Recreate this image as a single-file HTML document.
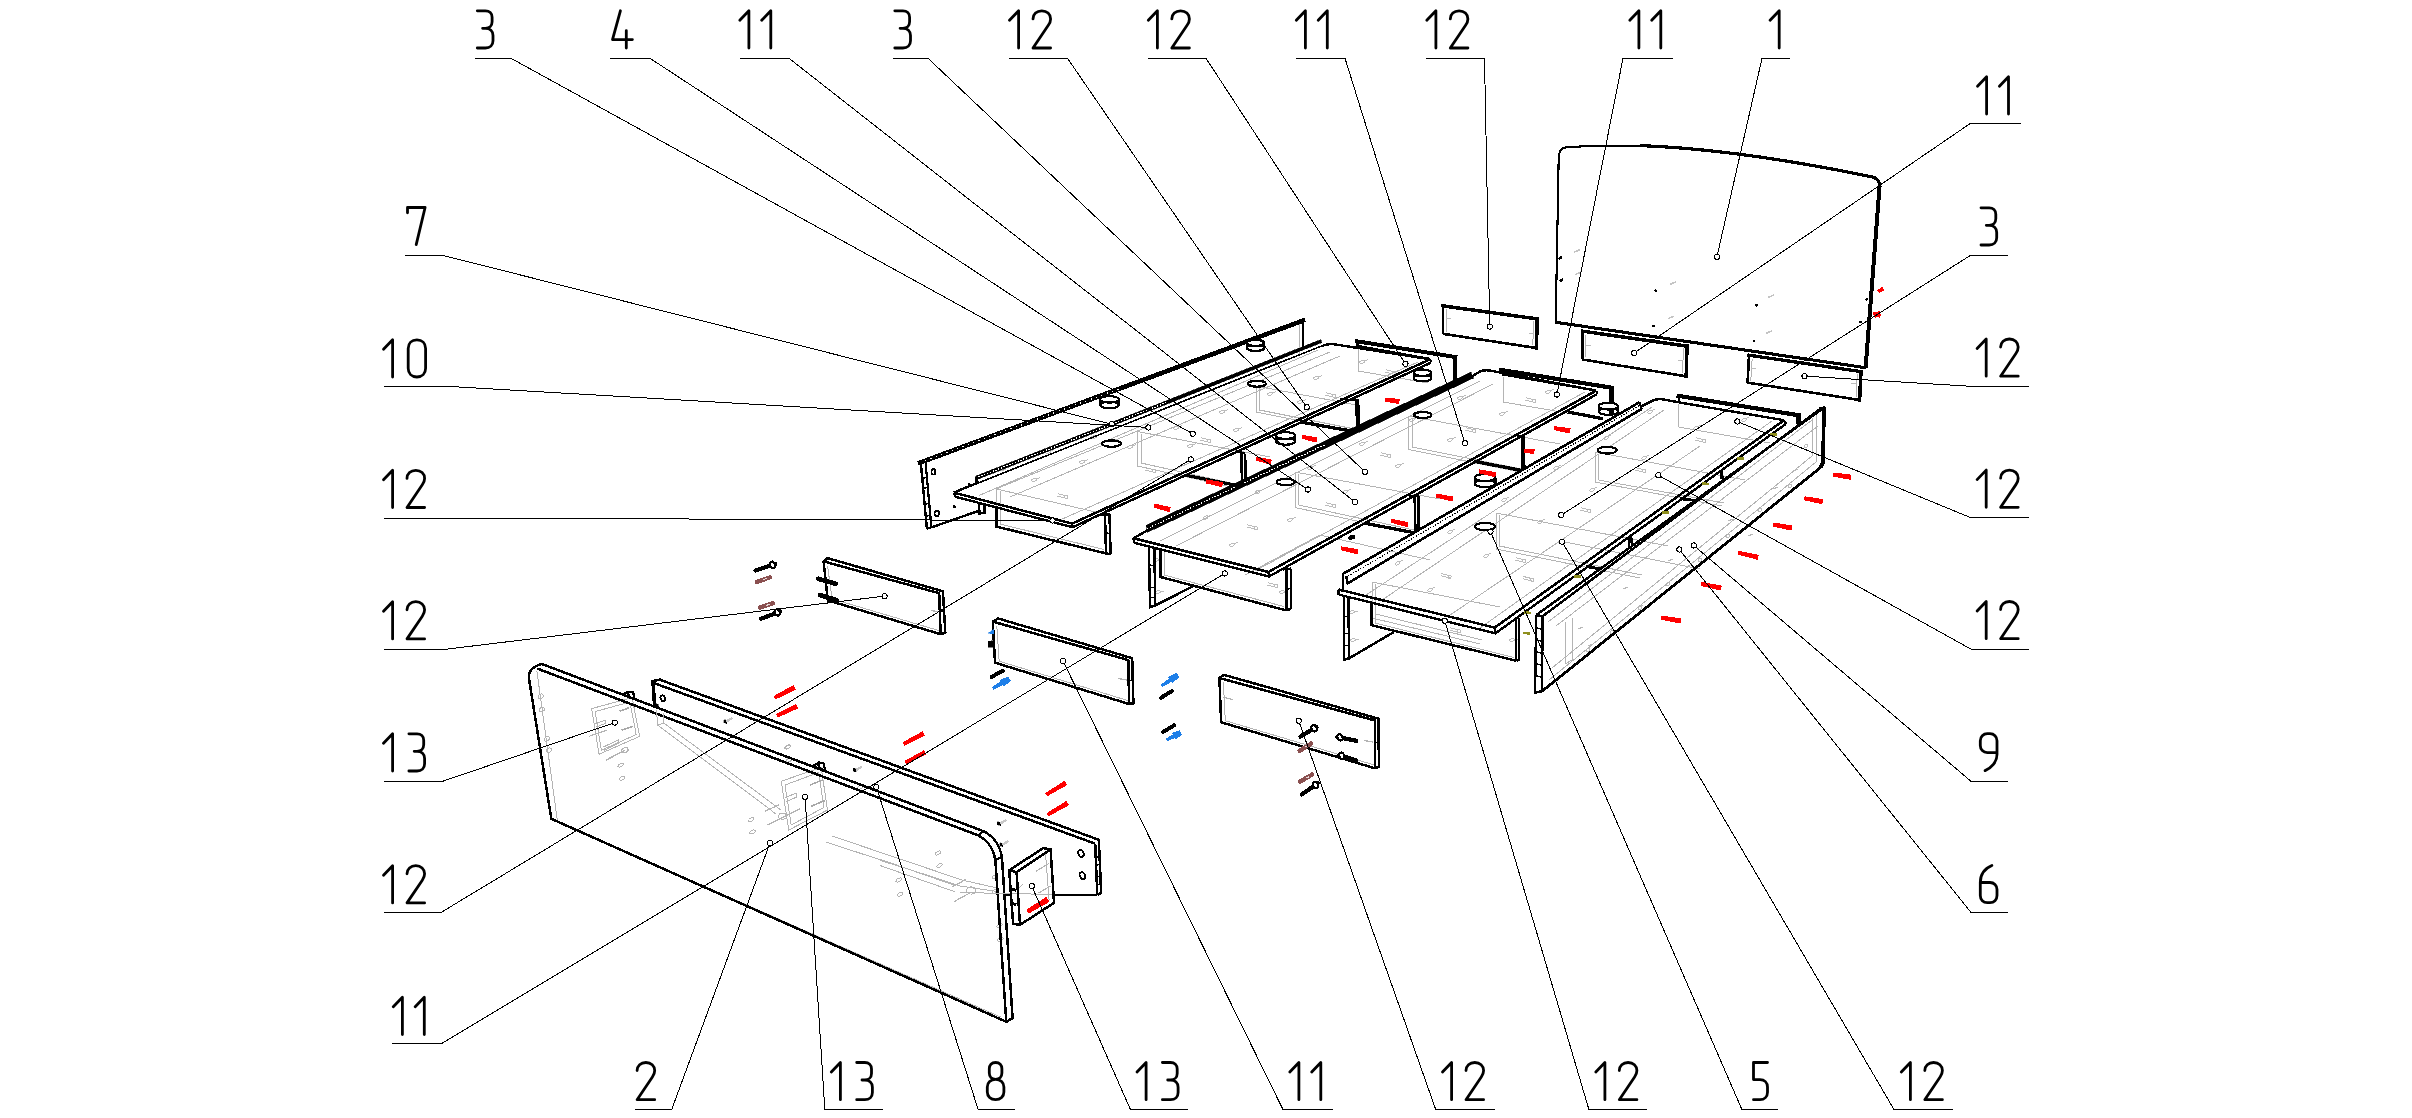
<!DOCTYPE html>
<html><head><meta charset="utf-8"><title>Assembly diagram</title>
<style>html,body{margin:0;padding:0;background:#fff;font-family:"Liberation Sans",sans-serif}svg{display:block}</style></head>
<body>
<svg width="2412" height="1118" viewBox="0 0 2412 1118">
<g shape-rendering="crispEdges">
<circle cx="1655.8" cy="290.8" r="1.5" fill="#000" stroke="#000" stroke-width="0"/>
<circle cx="1653.8" cy="326" r="1.5" fill="#000" stroke="#000" stroke-width="0"/>
<circle cx="1756.3" cy="305.1" r="1.5" fill="#000" stroke="#000" stroke-width="0"/>
<circle cx="1753.9" cy="340.9" r="1.5" fill="#000" stroke="#000" stroke-width="0"/>
<circle cx="1866.8" cy="299.2" r="1.5" fill="#000" stroke="#000" stroke-width="0"/>
<circle cx="1860.8" cy="322" r="1.5" fill="#000" stroke="#000" stroke-width="0"/>
<polyline points="1574.2,252.1 1580.2,249.5" fill="none" stroke="#c4c4c4" stroke-width="1.6" stroke-linecap="butt" stroke-linejoin="miter"/>
<polyline points="1575.2,274.6 1581.2,272" fill="none" stroke="#c4c4c4" stroke-width="1.6" stroke-linecap="butt" stroke-linejoin="miter"/>
<polyline points="1669.7,284.5 1675.7,281.9" fill="none" stroke="#c4c4c4" stroke-width="1.6" stroke-linecap="butt" stroke-linejoin="miter"/>
<polyline points="1667.7,318.8 1673.7,316.2" fill="none" stroke="#c4c4c4" stroke-width="1.6" stroke-linecap="butt" stroke-linejoin="miter"/>
<polyline points="1768.2,297.5 1774.2,294.9" fill="none" stroke="#c4c4c4" stroke-width="1.6" stroke-linecap="butt" stroke-linejoin="miter"/>
<polyline points="1766.3,333.3 1772.3,330.7" fill="none" stroke="#c4c4c4" stroke-width="1.6" stroke-linecap="butt" stroke-linejoin="miter"/>
<polyline points="1558.4,259 1561.9,257" fill="none" stroke="#000" stroke-width="2.4" stroke-linecap="butt" stroke-linejoin="miter"/>
<polyline points="1559.8,281.2 1563.3,279.2" fill="none" stroke="#000" stroke-width="2.4" stroke-linecap="butt" stroke-linejoin="miter"/>
<polygon points="1879.2,292.3 1883.6,289.9 1882,287.3 1878,290.5" fill="#f00" stroke="#f00" stroke-width="1" stroke-linejoin="round"/>
<polygon points="1873.1,314.1 1879.4,317.1 1880.6,314.1 1873.9,311.9" fill="#f00" stroke="#f00" stroke-width="1" stroke-linejoin="round"/>
<polygon points="1875.6,317.1 1880.3,312.8 1878.7,311.2 1874.4,315.9" fill="#f00" stroke="#f00" stroke-width="1" stroke-linejoin="round"/>
<path d="M1555.7,322.3 L1558.7,157" fill="none" stroke="#000" stroke-width="2.1" stroke-linecap="butt" stroke-linejoin="round"/>
<path d="M1558.7,158 C1558.9,151 1561.5,147.6 1566.5,147.2 C1600,144.9 1640,145.2 1680,148.4" fill="none" stroke="#000" stroke-width="2.1" stroke-linecap="butt" stroke-linejoin="round"/>
<path d="M1640,145.6 C1720,148.6 1800,162 1871.7,176.8 C1877.5,178 1880,181.5 1879.6,187" fill="none" stroke="#000" stroke-width="3.2" stroke-linecap="butt" stroke-linejoin="round"/>
<path d="M1879.6,186 L1865.6,367.8" fill="none" stroke="#000" stroke-width="4" stroke-linecap="butt" stroke-linejoin="round"/>
<path d="M1555.2,322.2 L1866.2,367.8" fill="none" stroke="#000" stroke-width="3.1" stroke-linecap="butt" stroke-linejoin="round"/>
<polyline points="1446.1,309.4 1446.1,331.8" fill="none" stroke="#b4b4b4" stroke-width="1" stroke-linecap="butt" stroke-linejoin="miter"/>
<polyline points="1533.6,320.9 1532.8,345" fill="none" stroke="#b4b4b4" stroke-width="1" stroke-linecap="butt" stroke-linejoin="miter"/>
<polyline points="1442.9,333.8 1442.9,305.9" fill="none" stroke="#000" stroke-width="2.6" stroke-linecap="butt" stroke-linejoin="miter"/>
<polyline points="1442.9,333.8 1536.4,348" fill="none" stroke="#000" stroke-width="2.6" stroke-linecap="butt" stroke-linejoin="miter"/>
<polyline points="1442.9,305.9 1537.2,318.9" fill="none" stroke="#000" stroke-width="3.5" stroke-linecap="square" stroke-linejoin="miter"/>
<polyline points="1537.2,318.9 1536.4,348" fill="none" stroke="#000" stroke-width="3.5" stroke-linecap="square" stroke-linejoin="miter"/>
<polyline points="1586,334.7 1585.5,357.5" fill="none" stroke="#b4b4b4" stroke-width="1" stroke-linecap="butt" stroke-linejoin="miter"/>
<polyline points="1683.4,348.2 1682.6,373.3" fill="none" stroke="#b4b4b4" stroke-width="1" stroke-linecap="butt" stroke-linejoin="miter"/>
<polyline points="1582.3,359.5 1582.8,331.2" fill="none" stroke="#000" stroke-width="2.6" stroke-linecap="butt" stroke-linejoin="miter"/>
<polyline points="1582.3,359.5 1686.2,376.3" fill="none" stroke="#000" stroke-width="2.6" stroke-linecap="butt" stroke-linejoin="miter"/>
<polyline points="1582.8,331.2 1687,346.2" fill="none" stroke="#000" stroke-width="3.5" stroke-linecap="square" stroke-linejoin="miter"/>
<polyline points="1687,346.2 1686.2,376.3" fill="none" stroke="#000" stroke-width="3.5" stroke-linecap="square" stroke-linejoin="miter"/>
<polyline points="1752.2,358.7 1750.8,380.6" fill="none" stroke="#b4b4b4" stroke-width="1" stroke-linecap="butt" stroke-linejoin="miter"/>
<polyline points="1857.4,373.6 1856,397" fill="none" stroke="#b4b4b4" stroke-width="1" stroke-linecap="butt" stroke-linejoin="miter"/>
<polyline points="1747.6,382.6 1749,355.2" fill="none" stroke="#000" stroke-width="2.6" stroke-linecap="butt" stroke-linejoin="miter"/>
<polyline points="1747.6,382.6 1859.6,400" fill="none" stroke="#000" stroke-width="2.6" stroke-linecap="butt" stroke-linejoin="miter"/>
<polyline points="1749,355.2 1861,371.6" fill="none" stroke="#000" stroke-width="3.3" stroke-linecap="square" stroke-linejoin="miter"/>
<polyline points="1861,371.6 1859.6,400" fill="none" stroke="#000" stroke-width="3.5" stroke-linecap="square" stroke-linejoin="miter"/>
<polyline points="1446,318.1 1450.5,318.9" fill="none" stroke="#bdbdbd" stroke-width="1.2" stroke-linecap="butt" stroke-linejoin="miter"/>
<polyline points="1529,333.1 1533.5,333.9" fill="none" stroke="#bdbdbd" stroke-width="1.2" stroke-linecap="butt" stroke-linejoin="miter"/>
<polyline points="1586,345.1 1590.5,345.9" fill="none" stroke="#bdbdbd" stroke-width="1.2" stroke-linecap="butt" stroke-linejoin="miter"/>
<polyline points="1678,360.1 1682.5,360.9" fill="none" stroke="#bdbdbd" stroke-width="1.2" stroke-linecap="butt" stroke-linejoin="miter"/>
<polyline points="1751,368.1 1755.5,368.9" fill="none" stroke="#bdbdbd" stroke-width="1.2" stroke-linecap="butt" stroke-linejoin="miter"/>
<polyline points="1851,383.1 1855.5,383.9" fill="none" stroke="#bdbdbd" stroke-width="1.2" stroke-linecap="butt" stroke-linejoin="miter"/>
<polygon points="591.6,708.6 632.1,697.6 639.6,736.4 599.1,754.2" fill="none" stroke="#b4b4b4" stroke-width="1" stroke-linejoin="miter"/>
<polygon points="595.1,711.6 629.9,702 636.2,734.6 601.4,750.2" fill="none" stroke="#b4b4b4" stroke-width="1" stroke-linejoin="miter"/>
<polyline points="588.9,736.4 607,730.1" fill="none" stroke="#b4b4b4" stroke-width="1.2" stroke-linecap="butt" stroke-linejoin="miter"/>
<polyline points="595.1,723.9 605.1,720.1 605.8,723.2 596.4,727" fill="none" stroke="#b4b4b4" stroke-width="1" stroke-linecap="butt" stroke-linejoin="miter"/>
<polyline points="619.5,711.3 628.9,707.8" fill="none" stroke="#a8a8a8" stroke-width="1.6" stroke-linecap="butt" stroke-linejoin="miter"/>
<polyline points="621.4,730.1 632.7,726.4" fill="none" stroke="#a8a8a8" stroke-width="1.6" stroke-linecap="butt" stroke-linejoin="miter"/>
<polyline points="603.3,747 618.3,740.1 618.9,743.3 604.1,750.2" fill="none" stroke="#b4b4b4" stroke-width="1" stroke-linecap="butt" stroke-linejoin="miter"/>
<polyline points="605.8,760.2 625.2,750.2" fill="none" stroke="#b4b4b4" stroke-width="1.4" stroke-linecap="butt" stroke-linejoin="miter"/>
<ellipse cx="624.9" cy="750.2" rx="3.4" ry="2.4" fill="none" stroke="#b4b4b4" stroke-width="1" transform="rotate(-25 624.9 750.2)"/>
<ellipse cx="540.7" cy="696.3" rx="2.8" ry="2" fill="none" stroke="#b4b4b4" stroke-width="1" transform="rotate(-30 540.7 696.3)"/>
<ellipse cx="541.9" cy="709.5" rx="2.8" ry="2" fill="none" stroke="#b4b4b4" stroke-width="1" transform="rotate(-30 541.9 709.5)"/>
<ellipse cx="546.9" cy="738.9" rx="2.8" ry="2" fill="none" stroke="#b4b4b4" stroke-width="1" transform="rotate(-30 546.9 738.9)"/>
<ellipse cx="548.8" cy="750.2" rx="2.8" ry="2" fill="none" stroke="#b4b4b4" stroke-width="1" transform="rotate(-30 548.8 750.2)"/>
<ellipse cx="620.8" cy="765.2" rx="3.2" ry="1.6" fill="none" stroke="#b4b4b4" stroke-width="1" transform="rotate(-28 620.8 765.2)"/>
<ellipse cx="622" cy="778.3" rx="3.2" ry="1.6" fill="none" stroke="#b4b4b4" stroke-width="1" transform="rotate(-28 622 778.3)"/>
<ellipse cx="787.9" cy="747" rx="3.2" ry="1.6" fill="none" stroke="#b4b4b4" stroke-width="1" transform="rotate(-28 787.9 747)"/>
<ellipse cx="789.2" cy="760.2" rx="3.2" ry="1.6" fill="none" stroke="#b4b4b4" stroke-width="1" transform="rotate(-28 789.2 760.2)"/>
<polygon points="622,694.4 628.3,691.6 633.3,691.8 633.9,698.6" fill="none" stroke="#000" stroke-width="2.2" stroke-linejoin="miter"/>
<polyline points="627.5,692.5 629.2,697.2" fill="none" stroke="#000" stroke-width="2.6" stroke-linecap="butt" stroke-linejoin="miter"/>
<polygon points="781.2,781.2 821.2,767.5 827.5,810 788.8,830" fill="none" stroke="#b4b4b4" stroke-width="1" stroke-linejoin="miter"/>
<polygon points="785,785 818.8,772.5 823.8,807.5 791.2,825" fill="none" stroke="#b4b4b4" stroke-width="1" stroke-linejoin="miter"/>
<polyline points="810,785 822.5,780" fill="none" stroke="#a8a8a8" stroke-width="1.6" stroke-linecap="butt" stroke-linejoin="miter"/>
<polyline points="811.2,806.2 825,800.5" fill="none" stroke="#a8a8a8" stroke-width="1.6" stroke-linecap="butt" stroke-linejoin="miter"/>
<polyline points="785,797.5 796.2,793.2 797,797 786.2,801.5" fill="none" stroke="#b4b4b4" stroke-width="1" stroke-linecap="butt" stroke-linejoin="miter"/>
<polyline points="765,811.2 778.8,805" fill="none" stroke="#b4b4b4" stroke-width="1.2" stroke-linecap="butt" stroke-linejoin="miter"/>
<polyline points="767.5,825 800,808.8" fill="none" stroke="#b4b4b4" stroke-width="1.2" stroke-linecap="butt" stroke-linejoin="miter"/>
<ellipse cx="782.5" cy="816.2" rx="4" ry="3.2" fill="none" stroke="#b4b4b4" stroke-width="1"/>
<ellipse cx="751.2" cy="819.5" rx="3.2" ry="1.6" fill="none" stroke="#b4b4b4" stroke-width="1" transform="rotate(-28 751.2 819.5)"/>
<ellipse cx="752.5" cy="832" rx="3.2" ry="1.6" fill="none" stroke="#b4b4b4" stroke-width="1" transform="rotate(-28 752.5 832)"/>
<ellipse cx="787.5" cy="747" rx="3.2" ry="1.6" fill="none" stroke="#b4b4b4" stroke-width="1" transform="rotate(-28 787.5 747)"/>
<ellipse cx="788.8" cy="760" rx="3.2" ry="1.6" fill="none" stroke="#b4b4b4" stroke-width="1" transform="rotate(-28 788.8 760)"/>
<ellipse cx="860" cy="787.5" rx="3.2" ry="1.6" fill="none" stroke="#b4b4b4" stroke-width="1" transform="rotate(-28 860 787.5)"/>
<polygon points="812.5,766.4 818.7,762.4 823.7,763.6 825,770.2" fill="none" stroke="#000" stroke-width="2.2" stroke-linejoin="miter"/>
<polyline points="818,763.5 819.6,768.4" fill="none" stroke="#000" stroke-width="2.6" stroke-linecap="butt" stroke-linejoin="miter"/>
<polyline points="826,842 960,886 997,891.5" fill="none" stroke="#b4b4b4" stroke-width="1" stroke-linecap="butt" stroke-linejoin="miter"/>
<polyline points="832,836 962,880 997,888" fill="none" stroke="#b4b4b4" stroke-width="1" stroke-linecap="butt" stroke-linejoin="miter"/>
<polyline points="880,860.5 905,868" fill="none" stroke="#b4b4b4" stroke-width="1" stroke-linecap="butt" stroke-linejoin="miter"/>
<ellipse cx="938" cy="853" rx="3.2" ry="1.6" fill="none" stroke="#b4b4b4" stroke-width="1" transform="rotate(-28 938 853)"/>
<ellipse cx="939.5" cy="865.5" rx="3.2" ry="1.6" fill="none" stroke="#b4b4b4" stroke-width="1" transform="rotate(-28 939.5 865.5)"/>
<ellipse cx="898.8" cy="880" rx="3.2" ry="1.6" fill="none" stroke="#b4b4b4" stroke-width="1" transform="rotate(-28 898.8 880)"/>
<ellipse cx="900" cy="894.2" rx="3.2" ry="1.6" fill="none" stroke="#b4b4b4" stroke-width="1" transform="rotate(-28 900 894.2)"/>
<ellipse cx="995" cy="876.8" rx="3.2" ry="1.6" fill="none" stroke="#b4b4b4" stroke-width="1" transform="rotate(-28 995 876.8)"/>
<ellipse cx="995.5" cy="891.2" rx="3.2" ry="1.6" fill="none" stroke="#b4b4b4" stroke-width="1" transform="rotate(-28 995.5 891.2)"/>
<ellipse cx="999.5" cy="925.5" rx="3.2" ry="1.6" fill="none" stroke="#b4b4b4" stroke-width="1" transform="rotate(-28 999.5 925.5)"/>
<ellipse cx="1000.5" cy="939.2" rx="3.2" ry="1.6" fill="none" stroke="#b4b4b4" stroke-width="1" transform="rotate(-28 1000.5 939.2)"/>
<polyline points="952.5,886.8 966.2,879.2" fill="none" stroke="#b4b4b4" stroke-width="1.3" stroke-linecap="butt" stroke-linejoin="miter"/>
<polyline points="953.8,901.8 967.5,894.2" fill="none" stroke="#b4b4b4" stroke-width="1.3" stroke-linecap="butt" stroke-linejoin="miter"/>
<ellipse cx="971.2" cy="890.5" rx="4.5" ry="3.6" fill="none" stroke="#b4b4b4" stroke-width="1"/>
<polyline points="880,859.2 955,885.5" fill="none" stroke="#b4b4b4" stroke-width="1" stroke-linecap="butt" stroke-linejoin="miter"/>
<polyline points="880,865.5 955,891.8" fill="none" stroke="#b4b4b4" stroke-width="1" stroke-linecap="butt" stroke-linejoin="miter"/>
<polygon points="775.5,698.9 795.1,689.4 793.3,685.8 774.1,696.3" fill="#f00" stroke="#f00" stroke-width="1" stroke-linejoin="round"/>
<polygon points="777.9,717 797.6,708.1 795.8,704.5 776.7,714.4" fill="#f00" stroke="#f00" stroke-width="1" stroke-linejoin="round"/>
<polygon points="904.6,745.1 924.2,735.6 922.4,732 903.2,742.5" fill="#f00" stroke="#f00" stroke-width="1" stroke-linejoin="round"/>
<polygon points="906.5,763.9 925.5,754.3 923.7,750.9 905.1,761.3" fill="#f00" stroke="#f00" stroke-width="1" stroke-linejoin="round"/>
<polygon points="1047.3,795.7 1066.4,784.9 1064.4,781.5 1045.9,793.3" fill="#f00" stroke="#f00" stroke-width="1" stroke-linejoin="round"/>
<polygon points="1048.6,815.7 1068.3,805 1066.3,801.6 1047.2,813.3" fill="#f00" stroke="#f00" stroke-width="1" stroke-linejoin="round"/>
<polyline points="536.9,671 557.5,821.5 1000.5,1017" fill="none" stroke="#b4b4b4" stroke-width="1" stroke-linecap="butt" stroke-linejoin="miter"/>
<path d="M551.3,818.8 L528.9,678 C528.2,671 532,666.5 541.9,664 L983.4,831.2 C993.5,836 1000,846 1001.9,857 L1012.6,1018 L1006.3,1021.8 Z" fill="none" stroke="#000" stroke-width="2.5" stroke-linecap="butt" stroke-linejoin="round"/>
<path d="M537.3,668.6 L977.8,835.2 C987,839.5 993.5,849 995.4,860.4 L1006.3,1021.8" fill="none" stroke="#000" stroke-width="2.5" stroke-linecap="butt" stroke-linejoin="round"/>
<polyline points="978.7,834.8 983.6,830.9" fill="none" stroke="#000" stroke-width="2.2" stroke-linecap="butt" stroke-linejoin="miter"/>
<polyline points="995.4,860.4 1001.8,856.5" fill="none" stroke="#000" stroke-width="2.2" stroke-linecap="butt" stroke-linejoin="miter"/>
<polyline points="656.5,710.1 657.7,725.1 776,814" fill="none" stroke="#b4b4b4" stroke-width="1" stroke-linecap="butt" stroke-linejoin="miter"/>
<polyline points="663.4,712.6 664,723.2 781,810" fill="none" stroke="#b4b4b4" stroke-width="1" stroke-linecap="butt" stroke-linejoin="miter"/>
<polyline points="657.7,725.1 664,723.2" fill="none" stroke="#b4b4b4" stroke-width="1" stroke-linecap="butt" stroke-linejoin="miter"/>
<polyline points="660.2,679.8 1098.8,839.8" fill="none" stroke="#000" stroke-width="2.5" stroke-linecap="butt" stroke-linejoin="miter"/>
<polyline points="652.6,682.6 1094.8,843.5" fill="none" stroke="#000" stroke-width="2.5" stroke-linecap="butt" stroke-linejoin="miter"/>
<polyline points="652.3,681.2 660.4,679.6" fill="none" stroke="#000" stroke-width="2.5" stroke-linecap="square" stroke-linejoin="miter"/>
<polyline points="652.9,681 654.8,708" fill="none" stroke="#000" stroke-width="3.5" stroke-linecap="butt" stroke-linejoin="miter"/>
<polygon points="654.6,703.8 658.4,704.1 658.6,708.2 655,707.8" fill="#000" stroke="#000" stroke-width="0.5" stroke-linejoin="miter"/>
<polyline points="1098.8,839.8 1101.2,892.9" fill="none" stroke="#000" stroke-width="2.5" stroke-linecap="square" stroke-linejoin="miter"/>
<polyline points="1095.2,843.7 1097.3,894.9" fill="none" stroke="#000" stroke-width="2.5" stroke-linecap="butt" stroke-linejoin="miter"/>
<polyline points="1097.3,894.9 1101.4,892.7" fill="none" stroke="#000" stroke-width="2.5" stroke-linecap="butt" stroke-linejoin="miter"/>
<polyline points="1097.3,894.9 1054.5,894.9" fill="none" stroke="#000" stroke-width="2.5" stroke-linecap="butt" stroke-linejoin="miter"/>
<polyline points="1004.3,894.9 1010.4,894.9" fill="none" stroke="#000" stroke-width="2.5" stroke-linecap="butt" stroke-linejoin="miter"/>
<polyline points="960,892.5 1054,894.5" fill="none" stroke="#b4b4b4" stroke-width="1" stroke-linecap="butt" stroke-linejoin="miter"/>
<ellipse cx="662.8" cy="698.2" rx="2.2" ry="3" fill="#fff" stroke="#000" stroke-width="1.8" transform="rotate(-20 662.8 698.2)"/>
<ellipse cx="1081" cy="853.5" rx="2.6" ry="3.6" fill="#fff" stroke="#000" stroke-width="1.8" transform="rotate(-25 1081 853.5)"/>
<ellipse cx="1082.5" cy="875.7" rx="2.6" ry="3.6" fill="#fff" stroke="#000" stroke-width="1.8" transform="rotate(-25 1082.5 875.7)"/>
<polygon points="723.5,719.6 726.7,720.4 726.7,723.6 723.5,722.8" fill="#000" stroke="#000" stroke-width="0.3" stroke-linejoin="miter"/>
<polyline points="727.1,721.1 731.6,718.4" fill="none" stroke="#c8c8c8" stroke-width="2.4" stroke-linecap="round" stroke-linejoin="miter"/>
<polygon points="853.2,768.1 856.4,768.9 856.4,772.1 853.2,771.3" fill="#000" stroke="#000" stroke-width="0.3" stroke-linejoin="miter"/>
<polyline points="856.8,769.6 861.3,766.9" fill="none" stroke="#c8c8c8" stroke-width="2.4" stroke-linecap="round" stroke-linejoin="miter"/>
<polygon points="997.4,821.7 1000.6,822.5 1000.6,825.7 997.4,824.9" fill="#000" stroke="#000" stroke-width="0.3" stroke-linejoin="miter"/>
<polyline points="1001,823.2 1005.5,820.5" fill="none" stroke="#c8c8c8" stroke-width="2.4" stroke-linecap="round" stroke-linejoin="miter"/>
<polygon points="999.6,842.6 1002.8,843.4 1002.8,846.6 999.6,845.8" fill="#000" stroke="#000" stroke-width="0.3" stroke-linejoin="miter"/>
<polyline points="1003.2,844.1 1007.7,841.4" fill="none" stroke="#c8c8c8" stroke-width="2.4" stroke-linecap="round" stroke-linejoin="miter"/>
<polyline points="1096.2,857 1100.5,856" fill="none" stroke="#000" stroke-width="1.6" stroke-linecap="butt" stroke-linejoin="miter"/>
<polyline points="1096.2,865 1100.5,864" fill="none" stroke="#000" stroke-width="1.6" stroke-linecap="butt" stroke-linejoin="miter"/>
<polyline points="1096.2,877 1100.5,876" fill="none" stroke="#000" stroke-width="1.6" stroke-linecap="butt" stroke-linejoin="miter"/>
<polyline points="1096.2,885 1100.5,884" fill="none" stroke="#000" stroke-width="1.6" stroke-linecap="butt" stroke-linejoin="miter"/>
<polyline points="1035.8,871.3 1049.1,863.4" fill="none" stroke="#b4b4b4" stroke-width="1.2" stroke-linecap="butt" stroke-linejoin="miter"/>
<polyline points="1019.1,888 1023,884.1" fill="none" stroke="#b4b4b4" stroke-width="1.2" stroke-linecap="butt" stroke-linejoin="miter"/>
<polyline points="1038.7,892.9 1050.6,886" fill="none" stroke="#b4b4b4" stroke-width="1.2" stroke-linecap="butt" stroke-linejoin="miter"/>
<polyline points="1045.6,854.5 1049.1,899.8" fill="none" stroke="#b4b4b4" stroke-width="1" stroke-linecap="butt" stroke-linejoin="miter"/>
<polygon points="1009.2,870.3 1043.2,848.1 1050.6,849.3 1054,902.8 1020,924.9 1013.1,923.9" fill="none" stroke="#000" stroke-width="2.5" stroke-linejoin="round"/>
<polyline points="1009.2,870.3 1016.6,872.2 1050.6,849.3" fill="none" stroke="#000" stroke-width="2.5" stroke-linecap="butt" stroke-linejoin="round"/>
<polyline points="1016.6,872.2 1020,924.9" fill="none" stroke="#000" stroke-width="2.5" stroke-linecap="butt" stroke-linejoin="miter"/>
<polyline points="1010.9,889 1016.3,890.3" fill="none" stroke="#000" stroke-width="2.9" stroke-linecap="butt" stroke-linejoin="miter"/>
<polyline points="1010.9,903.2 1016.3,904.5" fill="none" stroke="#000" stroke-width="2.9" stroke-linecap="butt" stroke-linejoin="miter"/>
<polygon points="1028.8,912.9 1048.9,901.7 1046.3,897.5 1027,909.9" fill="#f00" stroke="#f00" stroke-width="1" stroke-linejoin="round"/>
<polyline points="920.2,462.6 1303,320.6" fill="none" stroke="#000" stroke-width="4.6" stroke-linecap="square" stroke-linejoin="miter"/>
<polyline points="925,460.8 1120,388.4" fill="none" stroke="#fff" stroke-width="1.1" stroke-linecap="butt" stroke-linejoin="miter" stroke-dasharray="1.2 4.5"/>
<polyline points="920.9,463.8 926.9,528.6" fill="none" stroke="#000" stroke-width="2.4" stroke-linecap="butt" stroke-linejoin="miter"/>
<polyline points="925.6,463 931.4,527.4" fill="none" stroke="#000" stroke-width="2.2" stroke-linecap="butt" stroke-linejoin="miter"/>
<polyline points="926.9,528.6 931.6,527.2" fill="none" stroke="#000" stroke-width="2.4" stroke-linecap="butt" stroke-linejoin="miter"/>
<polyline points="931.4,527.4 979.4,510.6" fill="none" stroke="#000" stroke-width="2.4" stroke-linecap="butt" stroke-linejoin="miter"/>
<polyline points="1303,320.4 1303,350" fill="none" stroke="#000" stroke-width="2.9" stroke-linecap="butt" stroke-linejoin="miter"/>
<polyline points="1299.6,324 1300,356" fill="none" stroke="#b4b4b4" stroke-width="1" stroke-linecap="butt" stroke-linejoin="miter"/>
<ellipse cx="933.4" cy="471.7" rx="2" ry="2.8" fill="none" stroke="#000" stroke-width="1.8"/>
<ellipse cx="936.8" cy="513.5" rx="2.2" ry="2.8" fill="none" stroke="#000" stroke-width="1.8"/>
<polyline points="923.4,478 928,477.4" fill="none" stroke="#000" stroke-width="1.4" stroke-linecap="butt" stroke-linejoin="miter"/>
<polyline points="924.2,488 928.8,487.4" fill="none" stroke="#000" stroke-width="1.4" stroke-linecap="butt" stroke-linejoin="miter"/>
<polyline points="925.8,504 930.4,503.4" fill="none" stroke="#000" stroke-width="1.4" stroke-linecap="butt" stroke-linejoin="miter"/>
<polyline points="926.4,516 931,515.4" fill="none" stroke="#000" stroke-width="1.4" stroke-linecap="butt" stroke-linejoin="miter"/>
<circle cx="968.8" cy="483.8" r="1.3" fill="#000" stroke="#000" stroke-width="0"/>
<circle cx="954.2" cy="506.7" r="1.6" fill="#000" stroke="#000" stroke-width="0"/>
<ellipse cx="1003" cy="469" rx="2.4" ry="1.5" fill="none" stroke="#bcbcbc" stroke-width="1" transform="rotate(-22 1003 469)"/>
<polyline points="1005.2,468.1 1009,466.6" fill="none" stroke="#bcbcbc" stroke-width="1" stroke-linecap="butt" stroke-linejoin="miter"/>
<ellipse cx="1048" cy="452" rx="2.4" ry="1.5" fill="none" stroke="#bcbcbc" stroke-width="1" transform="rotate(-22 1048 452)"/>
<polyline points="1050.2,451.1 1054,449.6" fill="none" stroke="#bcbcbc" stroke-width="1" stroke-linecap="butt" stroke-linejoin="miter"/>
<ellipse cx="1094" cy="437" rx="2.4" ry="1.5" fill="none" stroke="#bcbcbc" stroke-width="1" transform="rotate(-22 1094 437)"/>
<polyline points="1096.2,436.1 1100,434.6" fill="none" stroke="#bcbcbc" stroke-width="1" stroke-linecap="butt" stroke-linejoin="miter"/>
<ellipse cx="1034" cy="480" rx="2.4" ry="1.5" fill="none" stroke="#bcbcbc" stroke-width="1" transform="rotate(-22 1034 480)"/>
<polyline points="1036.2,479.1 1040,477.6" fill="none" stroke="#bcbcbc" stroke-width="1" stroke-linecap="butt" stroke-linejoin="miter"/>
<ellipse cx="1082" cy="462" rx="2.4" ry="1.5" fill="none" stroke="#bcbcbc" stroke-width="1" transform="rotate(-22 1082 462)"/>
<polyline points="1084.2,461.1 1088,459.6" fill="none" stroke="#bcbcbc" stroke-width="1" stroke-linecap="butt" stroke-linejoin="miter"/>
<ellipse cx="1130" cy="447" rx="2.4" ry="1.5" fill="none" stroke="#bcbcbc" stroke-width="1" transform="rotate(-22 1130 447)"/>
<polyline points="1132.2,446.1 1136,444.6" fill="none" stroke="#bcbcbc" stroke-width="1" stroke-linecap="butt" stroke-linejoin="miter"/>
<ellipse cx="1176" cy="428" rx="2.4" ry="1.5" fill="none" stroke="#bcbcbc" stroke-width="1" transform="rotate(-22 1176 428)"/>
<polyline points="1178.2,427.1 1182,425.6" fill="none" stroke="#bcbcbc" stroke-width="1" stroke-linecap="butt" stroke-linejoin="miter"/>
<ellipse cx="1222" cy="412" rx="2.4" ry="1.5" fill="none" stroke="#bcbcbc" stroke-width="1" transform="rotate(-22 1222 412)"/>
<polyline points="1224.2,411.1 1228,409.6" fill="none" stroke="#bcbcbc" stroke-width="1" stroke-linecap="butt" stroke-linejoin="miter"/>
<ellipse cx="1270" cy="394" rx="2.4" ry="1.5" fill="none" stroke="#bcbcbc" stroke-width="1" transform="rotate(-22 1270 394)"/>
<polyline points="1272.2,393.1 1276,391.6" fill="none" stroke="#bcbcbc" stroke-width="1" stroke-linecap="butt" stroke-linejoin="miter"/>
<ellipse cx="1316" cy="378" rx="2.4" ry="1.5" fill="none" stroke="#bcbcbc" stroke-width="1" transform="rotate(-22 1316 378)"/>
<polyline points="1318.2,377.1 1322,375.6" fill="none" stroke="#bcbcbc" stroke-width="1" stroke-linecap="butt" stroke-linejoin="miter"/>
<ellipse cx="1362" cy="362" rx="2.4" ry="1.5" fill="none" stroke="#bcbcbc" stroke-width="1" transform="rotate(-22 1362 362)"/>
<polyline points="1364.2,361.1 1368,359.6" fill="none" stroke="#bcbcbc" stroke-width="1" stroke-linecap="butt" stroke-linejoin="miter"/>
<ellipse cx="1190" cy="446" rx="2.4" ry="1.5" fill="none" stroke="#bcbcbc" stroke-width="1" transform="rotate(-22 1190 446)"/>
<polyline points="1192.2,445.1 1196,443.6" fill="none" stroke="#bcbcbc" stroke-width="1" stroke-linecap="butt" stroke-linejoin="miter"/>
<ellipse cx="1236" cy="430" rx="2.4" ry="1.5" fill="none" stroke="#bcbcbc" stroke-width="1" transform="rotate(-22 1236 430)"/>
<polyline points="1238.2,429.1 1242,427.6" fill="none" stroke="#bcbcbc" stroke-width="1" stroke-linecap="butt" stroke-linejoin="miter"/>
<ellipse cx="1300" cy="402" rx="2.4" ry="1.5" fill="none" stroke="#bcbcbc" stroke-width="1" transform="rotate(-22 1300 402)"/>
<polyline points="1302.2,401.1 1306,399.6" fill="none" stroke="#bcbcbc" stroke-width="1" stroke-linecap="butt" stroke-linejoin="miter"/>
<polyline points="1057.6,493.7 1066.4,495.9" fill="none" stroke="#bcbcbc" stroke-width="1" stroke-linecap="butt" stroke-linejoin="miter"/>
<polyline points="1057.6,496.1 1066.4,498.3" fill="none" stroke="#bcbcbc" stroke-width="1" stroke-linecap="butt" stroke-linejoin="miter"/>
<ellipse cx="1066.4" cy="497.1" rx="1.6" ry="1.6" fill="none" stroke="#bcbcbc" stroke-width="1"/>
<polyline points="1145.6,467.7 1154.4,469.9" fill="none" stroke="#bcbcbc" stroke-width="1" stroke-linecap="butt" stroke-linejoin="miter"/>
<polyline points="1145.6,470.1 1154.4,472.3" fill="none" stroke="#bcbcbc" stroke-width="1" stroke-linecap="butt" stroke-linejoin="miter"/>
<ellipse cx="1154.4" cy="471.1" rx="1.6" ry="1.6" fill="none" stroke="#bcbcbc" stroke-width="1"/>
<polyline points="1200.6,437.7 1209.4,439.9" fill="none" stroke="#bcbcbc" stroke-width="1" stroke-linecap="butt" stroke-linejoin="miter"/>
<polyline points="1200.6,440.1 1209.4,442.3" fill="none" stroke="#bcbcbc" stroke-width="1" stroke-linecap="butt" stroke-linejoin="miter"/>
<ellipse cx="1209.4" cy="441.1" rx="1.6" ry="1.6" fill="none" stroke="#bcbcbc" stroke-width="1"/>
<polyline points="1325.6,392.7 1334.4,394.9" fill="none" stroke="#bcbcbc" stroke-width="1" stroke-linecap="butt" stroke-linejoin="miter"/>
<polyline points="1325.6,395.1 1334.4,397.3" fill="none" stroke="#bcbcbc" stroke-width="1" stroke-linecap="butt" stroke-linejoin="miter"/>
<ellipse cx="1334.4" cy="396.1" rx="1.6" ry="1.6" fill="none" stroke="#bcbcbc" stroke-width="1"/>
<polyline points="1385.6,369.7 1394.4,371.9" fill="none" stroke="#bcbcbc" stroke-width="1" stroke-linecap="butt" stroke-linejoin="miter"/>
<polyline points="1385.6,372.1 1394.4,374.3" fill="none" stroke="#bcbcbc" stroke-width="1" stroke-linecap="butt" stroke-linejoin="miter"/>
<ellipse cx="1394.4" cy="373.1" rx="1.6" ry="1.6" fill="none" stroke="#bcbcbc" stroke-width="1"/>
<ellipse cx="1205.8" cy="517.6" rx="2.4" ry="1.5" fill="none" stroke="#bcbcbc" stroke-width="1" transform="rotate(-26 1205.8 517.6)"/>
<polyline points="1208,516.5 1211.6,514.8" fill="none" stroke="#bcbcbc" stroke-width="1" stroke-linecap="butt" stroke-linejoin="miter"/>
<ellipse cx="1257.8" cy="491.9" rx="2.4" ry="1.5" fill="none" stroke="#bcbcbc" stroke-width="1" transform="rotate(-26 1257.8 491.9)"/>
<polyline points="1260,490.8 1263.6,489.1" fill="none" stroke="#bcbcbc" stroke-width="1" stroke-linecap="butt" stroke-linejoin="miter"/>
<ellipse cx="1310" cy="468" rx="2.4" ry="1.5" fill="none" stroke="#bcbcbc" stroke-width="1" transform="rotate(-26 1310 468)"/>
<polyline points="1312.2,466.9 1315.8,465.2" fill="none" stroke="#bcbcbc" stroke-width="1" stroke-linecap="butt" stroke-linejoin="miter"/>
<ellipse cx="1362" cy="444" rx="2.4" ry="1.5" fill="none" stroke="#bcbcbc" stroke-width="1" transform="rotate(-26 1362 444)"/>
<polyline points="1364.2,442.9 1367.8,441.2" fill="none" stroke="#bcbcbc" stroke-width="1" stroke-linecap="butt" stroke-linejoin="miter"/>
<ellipse cx="1412" cy="420" rx="2.4" ry="1.5" fill="none" stroke="#bcbcbc" stroke-width="1" transform="rotate(-26 1412 420)"/>
<polyline points="1414.2,418.9 1417.8,417.2" fill="none" stroke="#bcbcbc" stroke-width="1" stroke-linecap="butt" stroke-linejoin="miter"/>
<ellipse cx="1460" cy="398" rx="2.4" ry="1.5" fill="none" stroke="#bcbcbc" stroke-width="1" transform="rotate(-26 1460 398)"/>
<polyline points="1462.2,396.9 1465.8,395.2" fill="none" stroke="#bcbcbc" stroke-width="1" stroke-linecap="butt" stroke-linejoin="miter"/>
<ellipse cx="1232" cy="545" rx="2.4" ry="1.5" fill="none" stroke="#bcbcbc" stroke-width="1" transform="rotate(-26 1232 545)"/>
<polyline points="1234.2,543.9 1237.8,542.2" fill="none" stroke="#bcbcbc" stroke-width="1" stroke-linecap="butt" stroke-linejoin="miter"/>
<ellipse cx="1290" cy="520" rx="2.4" ry="1.5" fill="none" stroke="#bcbcbc" stroke-width="1" transform="rotate(-26 1290 520)"/>
<polyline points="1292.2,518.9 1295.8,517.2" fill="none" stroke="#bcbcbc" stroke-width="1" stroke-linecap="butt" stroke-linejoin="miter"/>
<ellipse cx="1345" cy="492" rx="2.4" ry="1.5" fill="none" stroke="#bcbcbc" stroke-width="1" transform="rotate(-26 1345 492)"/>
<polyline points="1347.2,490.9 1350.8,489.2" fill="none" stroke="#bcbcbc" stroke-width="1" stroke-linecap="butt" stroke-linejoin="miter"/>
<ellipse cx="1398" cy="466" rx="2.4" ry="1.5" fill="none" stroke="#bcbcbc" stroke-width="1" transform="rotate(-26 1398 466)"/>
<polyline points="1400.2,464.9 1403.8,463.2" fill="none" stroke="#bcbcbc" stroke-width="1" stroke-linecap="butt" stroke-linejoin="miter"/>
<ellipse cx="1450" cy="440" rx="2.4" ry="1.5" fill="none" stroke="#bcbcbc" stroke-width="1" transform="rotate(-26 1450 440)"/>
<polyline points="1452.2,438.9 1455.8,437.2" fill="none" stroke="#bcbcbc" stroke-width="1" stroke-linecap="butt" stroke-linejoin="miter"/>
<ellipse cx="1502" cy="414" rx="2.4" ry="1.5" fill="none" stroke="#bcbcbc" stroke-width="1" transform="rotate(-26 1502 414)"/>
<polyline points="1504.2,412.9 1507.8,411.2" fill="none" stroke="#bcbcbc" stroke-width="1" stroke-linecap="butt" stroke-linejoin="miter"/>
<ellipse cx="1548" cy="392" rx="2.4" ry="1.5" fill="none" stroke="#bcbcbc" stroke-width="1" transform="rotate(-26 1548 392)"/>
<polyline points="1550.2,390.9 1553.8,389.2" fill="none" stroke="#bcbcbc" stroke-width="1" stroke-linecap="butt" stroke-linejoin="miter"/>
<polyline points="1247.1,524.7 1255.9,526.9" fill="none" stroke="#bcbcbc" stroke-width="1" stroke-linecap="butt" stroke-linejoin="miter"/>
<polyline points="1247.1,527.1 1255.9,529.3" fill="none" stroke="#bcbcbc" stroke-width="1" stroke-linecap="butt" stroke-linejoin="miter"/>
<ellipse cx="1255.9" cy="528.1" rx="1.6" ry="1.6" fill="none" stroke="#bcbcbc" stroke-width="1"/>
<polyline points="1325.6,502.7 1334.4,504.9" fill="none" stroke="#bcbcbc" stroke-width="1" stroke-linecap="butt" stroke-linejoin="miter"/>
<polyline points="1325.6,505.1 1334.4,507.3" fill="none" stroke="#bcbcbc" stroke-width="1" stroke-linecap="butt" stroke-linejoin="miter"/>
<ellipse cx="1334.4" cy="506.1" rx="1.6" ry="1.6" fill="none" stroke="#bcbcbc" stroke-width="1"/>
<polyline points="1380.6,452.7 1389.4,454.9" fill="none" stroke="#bcbcbc" stroke-width="1" stroke-linecap="butt" stroke-linejoin="miter"/>
<polyline points="1380.6,455.1 1389.4,457.3" fill="none" stroke="#bcbcbc" stroke-width="1" stroke-linecap="butt" stroke-linejoin="miter"/>
<ellipse cx="1389.4" cy="456.1" rx="1.6" ry="1.6" fill="none" stroke="#bcbcbc" stroke-width="1"/>
<polyline points="1465.6,427.7 1474.4,429.9" fill="none" stroke="#bcbcbc" stroke-width="1" stroke-linecap="butt" stroke-linejoin="miter"/>
<polyline points="1465.6,430.1 1474.4,432.3" fill="none" stroke="#bcbcbc" stroke-width="1" stroke-linecap="butt" stroke-linejoin="miter"/>
<ellipse cx="1474.4" cy="431.1" rx="1.6" ry="1.6" fill="none" stroke="#bcbcbc" stroke-width="1"/>
<polyline points="1525.6,397.7 1534.4,399.9" fill="none" stroke="#bcbcbc" stroke-width="1" stroke-linecap="butt" stroke-linejoin="miter"/>
<polyline points="1525.6,400.1 1534.4,402.3" fill="none" stroke="#bcbcbc" stroke-width="1" stroke-linecap="butt" stroke-linejoin="miter"/>
<ellipse cx="1534.4" cy="401.1" rx="1.6" ry="1.6" fill="none" stroke="#bcbcbc" stroke-width="1"/>
<polyline points="1267.6,582.7 1276.4,584.9" fill="none" stroke="#bcbcbc" stroke-width="1" stroke-linecap="butt" stroke-linejoin="miter"/>
<polyline points="1267.6,585.1 1276.4,587.3" fill="none" stroke="#bcbcbc" stroke-width="1" stroke-linecap="butt" stroke-linejoin="miter"/>
<ellipse cx="1276.4" cy="586.1" rx="1.6" ry="1.6" fill="none" stroke="#bcbcbc" stroke-width="1"/>
<ellipse cx="1397.6" cy="563.2" rx="2.4" ry="1.5" fill="none" stroke="#bcbcbc" stroke-width="1" transform="rotate(-32 1397.6 563.2)"/>
<polyline points="1399.6,561.9 1403.1,559.8" fill="none" stroke="#bcbcbc" stroke-width="1" stroke-linecap="butt" stroke-linejoin="miter"/>
<ellipse cx="1450" cy="532" rx="2.4" ry="1.5" fill="none" stroke="#bcbcbc" stroke-width="1" transform="rotate(-32 1450 532)"/>
<polyline points="1452,530.7 1455.5,528.6" fill="none" stroke="#bcbcbc" stroke-width="1" stroke-linecap="butt" stroke-linejoin="miter"/>
<ellipse cx="1504" cy="500" rx="2.4" ry="1.5" fill="none" stroke="#bcbcbc" stroke-width="1" transform="rotate(-32 1504 500)"/>
<polyline points="1506,498.7 1509.5,496.6" fill="none" stroke="#bcbcbc" stroke-width="1" stroke-linecap="butt" stroke-linejoin="miter"/>
<ellipse cx="1556" cy="468" rx="2.4" ry="1.5" fill="none" stroke="#bcbcbc" stroke-width="1" transform="rotate(-32 1556 468)"/>
<polyline points="1558,466.7 1561.5,464.6" fill="none" stroke="#bcbcbc" stroke-width="1" stroke-linecap="butt" stroke-linejoin="miter"/>
<ellipse cx="1606" cy="438" rx="2.4" ry="1.5" fill="none" stroke="#bcbcbc" stroke-width="1" transform="rotate(-32 1606 438)"/>
<polyline points="1608,436.7 1611.5,434.6" fill="none" stroke="#bcbcbc" stroke-width="1" stroke-linecap="butt" stroke-linejoin="miter"/>
<ellipse cx="1650" cy="412" rx="2.4" ry="1.5" fill="none" stroke="#bcbcbc" stroke-width="1" transform="rotate(-32 1650 412)"/>
<polyline points="1652,410.7 1655.5,408.6" fill="none" stroke="#bcbcbc" stroke-width="1" stroke-linecap="butt" stroke-linejoin="miter"/>
<ellipse cx="1430" cy="590" rx="2.4" ry="1.5" fill="none" stroke="#bcbcbc" stroke-width="1" transform="rotate(-32 1430 590)"/>
<polyline points="1432,588.7 1435.5,586.6" fill="none" stroke="#bcbcbc" stroke-width="1" stroke-linecap="butt" stroke-linejoin="miter"/>
<ellipse cx="1486" cy="556" rx="2.4" ry="1.5" fill="none" stroke="#bcbcbc" stroke-width="1" transform="rotate(-32 1486 556)"/>
<polyline points="1488,554.7 1491.5,552.6" fill="none" stroke="#bcbcbc" stroke-width="1" stroke-linecap="butt" stroke-linejoin="miter"/>
<ellipse cx="1540" cy="522" rx="2.4" ry="1.5" fill="none" stroke="#bcbcbc" stroke-width="1" transform="rotate(-32 1540 522)"/>
<polyline points="1542,520.7 1545.5,518.6" fill="none" stroke="#bcbcbc" stroke-width="1" stroke-linecap="butt" stroke-linejoin="miter"/>
<ellipse cx="1592" cy="490" rx="2.4" ry="1.5" fill="none" stroke="#bcbcbc" stroke-width="1" transform="rotate(-32 1592 490)"/>
<polyline points="1594,488.7 1597.5,486.6" fill="none" stroke="#bcbcbc" stroke-width="1" stroke-linecap="butt" stroke-linejoin="miter"/>
<ellipse cx="1644" cy="458" rx="2.4" ry="1.5" fill="none" stroke="#bcbcbc" stroke-width="1" transform="rotate(-32 1644 458)"/>
<polyline points="1646,456.7 1649.5,454.6" fill="none" stroke="#bcbcbc" stroke-width="1" stroke-linecap="butt" stroke-linejoin="miter"/>
<ellipse cx="1696" cy="428" rx="2.4" ry="1.5" fill="none" stroke="#bcbcbc" stroke-width="1" transform="rotate(-32 1696 428)"/>
<polyline points="1698,426.7 1701.5,424.6" fill="none" stroke="#bcbcbc" stroke-width="1" stroke-linecap="butt" stroke-linejoin="miter"/>
<ellipse cx="1744" cy="420" rx="2.4" ry="1.5" fill="none" stroke="#bcbcbc" stroke-width="1" transform="rotate(-32 1744 420)"/>
<polyline points="1746,418.7 1749.5,416.6" fill="none" stroke="#bcbcbc" stroke-width="1" stroke-linecap="butt" stroke-linejoin="miter"/>
<polyline points="1440.8,573.4 1449.6,575.6" fill="none" stroke="#bcbcbc" stroke-width="1" stroke-linecap="butt" stroke-linejoin="miter"/>
<polyline points="1440.8,575.8 1449.6,578" fill="none" stroke="#bcbcbc" stroke-width="1" stroke-linecap="butt" stroke-linejoin="miter"/>
<ellipse cx="1449.6" cy="576.8" rx="1.6" ry="1.6" fill="none" stroke="#bcbcbc" stroke-width="1"/>
<polyline points="1523.4,576.5 1532.2,578.7" fill="none" stroke="#bcbcbc" stroke-width="1" stroke-linecap="butt" stroke-linejoin="miter"/>
<polyline points="1523.4,578.9 1532.2,581.1" fill="none" stroke="#bcbcbc" stroke-width="1" stroke-linecap="butt" stroke-linejoin="miter"/>
<ellipse cx="1532.2" cy="579.9" rx="1.6" ry="1.6" fill="none" stroke="#bcbcbc" stroke-width="1"/>
<polyline points="1450.2,627.8 1459,630" fill="none" stroke="#bcbcbc" stroke-width="1" stroke-linecap="butt" stroke-linejoin="miter"/>
<polyline points="1450.2,630.2 1459,632.4" fill="none" stroke="#bcbcbc" stroke-width="1" stroke-linecap="butt" stroke-linejoin="miter"/>
<ellipse cx="1459" cy="631.2" rx="1.6" ry="1.6" fill="none" stroke="#bcbcbc" stroke-width="1"/>
<polyline points="1515.6,557.7 1524.4,559.9" fill="none" stroke="#bcbcbc" stroke-width="1" stroke-linecap="butt" stroke-linejoin="miter"/>
<polyline points="1515.6,560.1 1524.4,562.3" fill="none" stroke="#bcbcbc" stroke-width="1" stroke-linecap="butt" stroke-linejoin="miter"/>
<ellipse cx="1524.4" cy="561.1" rx="1.6" ry="1.6" fill="none" stroke="#bcbcbc" stroke-width="1"/>
<polyline points="1580.6,507.7 1589.4,509.9" fill="none" stroke="#bcbcbc" stroke-width="1" stroke-linecap="butt" stroke-linejoin="miter"/>
<polyline points="1580.6,510.1 1589.4,512.3" fill="none" stroke="#bcbcbc" stroke-width="1" stroke-linecap="butt" stroke-linejoin="miter"/>
<ellipse cx="1589.4" cy="511.1" rx="1.6" ry="1.6" fill="none" stroke="#bcbcbc" stroke-width="1"/>
<polyline points="1635.6,467.7 1644.4,469.9" fill="none" stroke="#bcbcbc" stroke-width="1" stroke-linecap="butt" stroke-linejoin="miter"/>
<polyline points="1635.6,470.1 1644.4,472.3" fill="none" stroke="#bcbcbc" stroke-width="1" stroke-linecap="butt" stroke-linejoin="miter"/>
<ellipse cx="1644.4" cy="471.1" rx="1.6" ry="1.6" fill="none" stroke="#bcbcbc" stroke-width="1"/>
<polyline points="1695.6,437.7 1704.4,439.9" fill="none" stroke="#bcbcbc" stroke-width="1" stroke-linecap="butt" stroke-linejoin="miter"/>
<polyline points="1695.6,440.1 1704.4,442.3" fill="none" stroke="#bcbcbc" stroke-width="1" stroke-linecap="butt" stroke-linejoin="miter"/>
<ellipse cx="1704.4" cy="441.1" rx="1.6" ry="1.6" fill="none" stroke="#bcbcbc" stroke-width="1"/>
<ellipse cx="1156" cy="560" rx="2.4" ry="1.5" fill="none" stroke="#bcbcbc" stroke-width="1" transform="rotate(-10 1156 560)"/>
<polyline points="1158.4,559.6 1162.4,558.9" fill="none" stroke="#bcbcbc" stroke-width="1" stroke-linecap="butt" stroke-linejoin="miter"/>
<ellipse cx="1158" cy="592" rx="2.4" ry="1.5" fill="none" stroke="#bcbcbc" stroke-width="1" transform="rotate(-10 1158 592)"/>
<polyline points="1160.4,591.6 1164.4,590.9" fill="none" stroke="#bcbcbc" stroke-width="1" stroke-linecap="butt" stroke-linejoin="miter"/>
<ellipse cx="1352" cy="612" rx="2.4" ry="1.5" fill="none" stroke="#bcbcbc" stroke-width="1" transform="rotate(-10 1352 612)"/>
<polyline points="1354.4,611.6 1358.4,610.9" fill="none" stroke="#bcbcbc" stroke-width="1" stroke-linecap="butt" stroke-linejoin="miter"/>
<ellipse cx="1353" cy="640" rx="2.4" ry="1.5" fill="none" stroke="#bcbcbc" stroke-width="1" transform="rotate(-10 1353 640)"/>
<polyline points="1355.4,639.6 1359.4,638.9" fill="none" stroke="#bcbcbc" stroke-width="1" stroke-linecap="butt" stroke-linejoin="miter"/>
<ellipse cx="1282" cy="592" rx="2.4" ry="1.5" fill="none" stroke="#bcbcbc" stroke-width="1" transform="rotate(-10 1282 592)"/>
<polyline points="1284.4,591.6 1288.4,590.9" fill="none" stroke="#bcbcbc" stroke-width="1" stroke-linecap="butt" stroke-linejoin="miter"/>
<ellipse cx="1512" cy="640" rx="2.4" ry="1.5" fill="none" stroke="#bcbcbc" stroke-width="1" transform="rotate(-10 1512 640)"/>
<polyline points="1514.4,639.6 1518.4,638.9" fill="none" stroke="#bcbcbc" stroke-width="1" stroke-linecap="butt" stroke-linejoin="miter"/>
<ellipse cx="1588" cy="650" rx="2.2" ry="1.4" fill="none" stroke="#bcbcbc" stroke-width="1" transform="rotate(-38 1588 650)"/>
<ellipse cx="1612" cy="632" rx="2.2" ry="1.4" fill="none" stroke="#bcbcbc" stroke-width="1" transform="rotate(-38 1612 632)"/>
<ellipse cx="1640" cy="608" rx="2.2" ry="1.4" fill="none" stroke="#bcbcbc" stroke-width="1" transform="rotate(-38 1640 608)"/>
<ellipse cx="1668" cy="584" rx="2.2" ry="1.4" fill="none" stroke="#bcbcbc" stroke-width="1" transform="rotate(-38 1668 584)"/>
<ellipse cx="1700" cy="560" rx="2.2" ry="1.4" fill="none" stroke="#bcbcbc" stroke-width="1" transform="rotate(-38 1700 560)"/>
<ellipse cx="1728" cy="536" rx="2.2" ry="1.4" fill="none" stroke="#bcbcbc" stroke-width="1" transform="rotate(-38 1728 536)"/>
<ellipse cx="1760" cy="510" rx="2.2" ry="1.4" fill="none" stroke="#bcbcbc" stroke-width="1" transform="rotate(-38 1760 510)"/>
<ellipse cx="1790" cy="486" rx="2.2" ry="1.4" fill="none" stroke="#bcbcbc" stroke-width="1" transform="rotate(-38 1790 486)"/>
<ellipse cx="1806" cy="446" rx="2.2" ry="1.4" fill="none" stroke="#bcbcbc" stroke-width="1" transform="rotate(-38 1806 446)"/>
<polyline points="979,495.5 1318,350" fill="none" stroke="#b4b4b4" stroke-width="1" stroke-linecap="butt" stroke-linejoin="miter"/>
<polyline points="996,489 1330,352" fill="none" stroke="#b4b4b4" stroke-width="1" stroke-linecap="butt" stroke-linejoin="miter"/>
<polyline points="1010,497 1340,356" fill="none" stroke="#b4b4b4" stroke-width="1" stroke-linecap="butt" stroke-linejoin="miter"/>
<polyline points="1060,520 1418,362" fill="none" stroke="#b4b4b4" stroke-width="1" stroke-linecap="butt" stroke-linejoin="miter"/>
<polyline points="1137.5,431.5 1137.5,466 1238,488.5" fill="none" stroke="#b4b4b4" stroke-width="1" stroke-linecap="butt" stroke-linejoin="miter"/>
<polyline points="1141,434 1141,463 1240,485" fill="none" stroke="#b4b4b4" stroke-width="1" stroke-linecap="butt" stroke-linejoin="miter"/>
<polyline points="1137.5,431.5 1270,457" fill="none" stroke="#b4b4b4" stroke-width="1" stroke-linecap="butt" stroke-linejoin="miter"/>
<polyline points="1000,509 1000,524 1104,549.5" fill="none" stroke="#b4b4b4" stroke-width="1" stroke-linecap="butt" stroke-linejoin="miter"/>
<polyline points="1256,386 1256,412 1350,431" fill="none" stroke="#b4b4b4" stroke-width="1" stroke-linecap="butt" stroke-linejoin="miter"/>
<polyline points="1259.5,388 1259.5,410 1352,428.5" fill="none" stroke="#b4b4b4" stroke-width="1" stroke-linecap="butt" stroke-linejoin="miter"/>
<polyline points="1256,386 1356,405" fill="none" stroke="#b4b4b4" stroke-width="1" stroke-linecap="butt" stroke-linejoin="miter"/>
<polyline points="996.5,489 996.5,507" fill="none" stroke="#b4b4b4" stroke-width="1" stroke-linecap="butt" stroke-linejoin="miter"/>
<polyline points="1000,490.5 1000,509" fill="none" stroke="#b4b4b4" stroke-width="1" stroke-linecap="butt" stroke-linejoin="miter"/>
<polyline points="996.5,489 1100,513" fill="none" stroke="#b4b4b4" stroke-width="1" stroke-linecap="butt" stroke-linejoin="miter"/>
<polyline points="1358,349 1358,371 1428,383" fill="none" stroke="#b4b4b4" stroke-width="1" stroke-linecap="butt" stroke-linejoin="miter"/>
<polyline points="1357,341.3 1455.3,357" fill="none" stroke="#000" stroke-width="4" stroke-linecap="square" stroke-linejoin="miter"/>
<polyline points="1455.3,356 1455.3,381" fill="none" stroke="#000" stroke-width="4" stroke-linecap="butt" stroke-linejoin="miter"/>
<polyline points="1357.2,341 1357.8,347" fill="none" stroke="#000" stroke-width="2.6" stroke-linecap="butt" stroke-linejoin="miter"/>
<polyline points="1358.3,346 1430.2,358.9" fill="none" stroke="#000" stroke-width="2.2" stroke-linecap="butt" stroke-linejoin="miter"/>
<polyline points="953.7,492.6 1072.2,523.6 1430.2,359.3" fill="none" stroke="#000" stroke-width="2.5" stroke-linecap="butt" stroke-linejoin="round"/>
<polyline points="1430.2,359.3 1335,344.4" fill="none" stroke="#000" stroke-width="2.4" stroke-linecap="butt" stroke-linejoin="miter"/>
<path d="M1335,344.4 C1330,343.6 1327,344 1322,346" fill="none" stroke="#000" stroke-width="2.4" stroke-linecap="butt" stroke-linejoin="round"/>
<polyline points="955.6,496.8 1072.6,527.2 1431,362.6" fill="none" stroke="#000" stroke-width="2.4" stroke-linecap="butt" stroke-linejoin="round"/>
<polyline points="953.7,492.6 955.6,496.8" fill="none" stroke="#000" stroke-width="2.4" stroke-linecap="butt" stroke-linejoin="miter"/>
<polyline points="1072.2,523.6 1072.6,527.2" fill="none" stroke="#000" stroke-width="2.2" stroke-linecap="butt" stroke-linejoin="miter"/>
<polyline points="1430.2,359.3 1431,362.6" fill="none" stroke="#000" stroke-width="2.2" stroke-linecap="butt" stroke-linejoin="miter"/>
<polyline points="953.7,492.6 979.5,482" fill="none" stroke="#000" stroke-width="2.4" stroke-linecap="butt" stroke-linejoin="miter"/>
<polygon points="975.6,476.2 1320.8,339.6 1321.6,342.6 975.9,480" fill="#000" stroke="#000" stroke-width="0.6" stroke-linejoin="miter"/>
<polyline points="975.8,478.1 1165.7,402.8" fill="none" stroke="#fff" stroke-width="1.3" stroke-linecap="butt" stroke-linejoin="miter" stroke-dasharray="1.3 1.7"/>
<polyline points="980.3,482.2 1323,345.4" fill="none" stroke="#000" stroke-width="1.6" stroke-linecap="butt" stroke-linejoin="miter"/>
<polyline points="976.6,476.5 976.8,483.4" fill="none" stroke="#000" stroke-width="2.9" stroke-linecap="butt" stroke-linejoin="miter"/>
<polyline points="996.5,507.8 996.5,526.6 1106,553.4" fill="none" stroke="#000" stroke-width="2.5" stroke-linecap="butt" stroke-linejoin="miter"/>
<polyline points="1099.5,514.4 1109.6,514.4" fill="none" stroke="#000" stroke-width="2.4" stroke-linecap="butt" stroke-linejoin="miter"/>
<polyline points="1105,514.4 1106,553.4" fill="none" stroke="#000" stroke-width="2.5" stroke-linecap="butt" stroke-linejoin="miter"/>
<polyline points="1109.5,514.4 1110.6,554.4" fill="none" stroke="#000" stroke-width="2.5" stroke-linecap="butt" stroke-linejoin="miter"/>
<polyline points="1106,553.4 1110.6,554.4" fill="none" stroke="#000" stroke-width="2.4" stroke-linecap="butt" stroke-linejoin="miter"/>
<polyline points="1105.2,533 1110,533.6" fill="none" stroke="#000" stroke-width="1.6" stroke-linecap="butt" stroke-linejoin="miter"/>
<polyline points="978.6,503 979.6,513.6 984.6,512.6 984.6,504.4" fill="none" stroke="#000" stroke-width="2.4" stroke-linecap="butt" stroke-linejoin="miter"/>
<ellipse cx="1111.5" cy="443.6" rx="9.4" ry="3.2" fill="#fff" stroke="#000" stroke-width="2.2"/>
<ellipse cx="1257" cy="383.7" rx="8.8" ry="3" fill="#fff" stroke="#000" stroke-width="2.2"/>
<ellipse cx="1109.5" cy="405" rx="9.4" ry="3.2" fill="none" stroke="#000" stroke-width="2.2"/>
<ellipse cx="1109.5" cy="399.4" rx="9.4" ry="3.2" fill="#fff" stroke="#000" stroke-width="2.2"/>
<polyline points="1100.1,399.4 1100.1,405" fill="none" stroke="#000" stroke-width="2.2" stroke-linecap="butt" stroke-linejoin="miter"/>
<polyline points="1118.9,399.4 1118.9,405" fill="none" stroke="#000" stroke-width="2.2" stroke-linecap="butt" stroke-linejoin="miter"/>
<ellipse cx="1255.6" cy="347.9" rx="8.6" ry="3" fill="none" stroke="#000" stroke-width="2.2"/>
<ellipse cx="1255.6" cy="342.9" rx="8.6" ry="3" fill="#fff" stroke="#000" stroke-width="2.2"/>
<polyline points="1247,342.9 1247,347.9" fill="none" stroke="#000" stroke-width="2.2" stroke-linecap="butt" stroke-linejoin="miter"/>
<polyline points="1264.2,342.9 1264.2,347.9" fill="none" stroke="#000" stroke-width="2.2" stroke-linecap="butt" stroke-linejoin="miter"/>
<ellipse cx="1422.4" cy="378.1" rx="8.8" ry="3.2" fill="none" stroke="#000" stroke-width="2.2"/>
<ellipse cx="1422.4" cy="372.7" rx="8.8" ry="3.2" fill="#fff" stroke="#000" stroke-width="2.2"/>
<polyline points="1413.6,372.7 1413.6,378.1" fill="none" stroke="#000" stroke-width="2.2" stroke-linecap="butt" stroke-linejoin="miter"/>
<polyline points="1431.2,372.7 1431.2,378.1" fill="none" stroke="#000" stroke-width="2.2" stroke-linecap="butt" stroke-linejoin="miter"/>
<polyline points="1160,541 1480,381" fill="none" stroke="#b4b4b4" stroke-width="1" stroke-linecap="butt" stroke-linejoin="miter"/>
<polyline points="1176,546 1493,384" fill="none" stroke="#b4b4b4" stroke-width="1" stroke-linecap="butt" stroke-linejoin="miter"/>
<polyline points="1255,571 1585,392" fill="none" stroke="#b4b4b4" stroke-width="1" stroke-linecap="butt" stroke-linejoin="miter"/>
<polyline points="1295,472 1295,507.5 1412,533" fill="none" stroke="#b4b4b4" stroke-width="1" stroke-linecap="butt" stroke-linejoin="miter"/>
<polyline points="1298.5,474 1298.5,505 1414,530" fill="none" stroke="#b4b4b4" stroke-width="1" stroke-linecap="butt" stroke-linejoin="miter"/>
<polyline points="1295,472 1440,499" fill="none" stroke="#b4b4b4" stroke-width="1" stroke-linecap="butt" stroke-linejoin="miter"/>
<polyline points="1408.5,416 1408.5,449.5 1520,472" fill="none" stroke="#b4b4b4" stroke-width="1" stroke-linecap="butt" stroke-linejoin="miter"/>
<polyline points="1412,418 1412,447 1522,469" fill="none" stroke="#b4b4b4" stroke-width="1" stroke-linecap="butt" stroke-linejoin="miter"/>
<polyline points="1408.5,416 1560,444" fill="none" stroke="#b4b4b4" stroke-width="1" stroke-linecap="butt" stroke-linejoin="miter"/>
<polyline points="1164,552 1164,575 1284,606.5" fill="none" stroke="#b4b4b4" stroke-width="1" stroke-linecap="butt" stroke-linejoin="miter"/>
<polyline points="1503,377 1503,402 1596,418" fill="none" stroke="#b4b4b4" stroke-width="1" stroke-linecap="butt" stroke-linejoin="miter"/>
<polyline points="1245,575 1320,535 1430,560" fill="none" stroke="#b4b4b4" stroke-width="1" stroke-linecap="butt" stroke-linejoin="miter"/>
<polyline points="1501.3,370 1611.4,387.7" fill="none" stroke="#000" stroke-width="4.2" stroke-linecap="square" stroke-linejoin="miter"/>
<polyline points="1611.4,386.5 1611.4,415" fill="none" stroke="#000" stroke-width="4.2" stroke-linecap="butt" stroke-linejoin="miter"/>
<polyline points="1502.5,374.5 1596.3,390.6" fill="none" stroke="#000" stroke-width="2.2" stroke-linecap="butt" stroke-linejoin="miter"/>
<polyline points="1133.6,538.3 1268.4,572 1596.3,390.6" fill="none" stroke="#000" stroke-width="2.5" stroke-linecap="butt" stroke-linejoin="round"/>
<polyline points="1596.3,390.6 1490,370.6" fill="none" stroke="#000" stroke-width="2.4" stroke-linecap="butt" stroke-linejoin="miter"/>
<path d="M1490,370.6 C1486,370 1483,370 1480,371.6 L1472.6,376" fill="none" stroke="#000" stroke-width="2.4" stroke-linecap="butt" stroke-linejoin="round"/>
<polyline points="1134,542.8 1269,576.5 1597,394.2" fill="none" stroke="#000" stroke-width="2.4" stroke-linecap="butt" stroke-linejoin="round"/>
<polyline points="1133.6,538.3 1134,542.8" fill="none" stroke="#000" stroke-width="2.4" stroke-linecap="butt" stroke-linejoin="miter"/>
<polyline points="1268.4,572 1269,576.5" fill="none" stroke="#000" stroke-width="2.2" stroke-linecap="butt" stroke-linejoin="miter"/>
<polyline points="1596.3,390.6 1597,394.2" fill="none" stroke="#000" stroke-width="2.2" stroke-linecap="butt" stroke-linejoin="miter"/>
<polyline points="1133.6,538.3 1147.2,530.4" fill="none" stroke="#000" stroke-width="2.4" stroke-linecap="butt" stroke-linejoin="miter"/>
<polygon points="1146.3,525.2 1470.9,372.2 1473.6,378 1147.4,532.4" fill="#000" stroke="#000" stroke-width="0.6" stroke-linejoin="miter"/>
<polyline points="1146.8,528.8 1325.8,444.3" fill="none" stroke="#fff" stroke-width="1.3" stroke-linecap="butt" stroke-linejoin="miter" stroke-dasharray="1.3 1.7"/>
<polyline points="1148.8,546.5 1150.1,607.1 1155.1,605.6 1154.5,548" fill="none" stroke="#000" stroke-width="2.5" stroke-linecap="butt" stroke-linejoin="miter"/>
<polyline points="1155.1,605.6 1192.6,586.4" fill="none" stroke="#000" stroke-width="2.5" stroke-linecap="butt" stroke-linejoin="miter"/>
<polyline points="1149.4,565 1154.6,566" fill="none" stroke="#000" stroke-width="1.5" stroke-linecap="butt" stroke-linejoin="miter"/>
<polyline points="1149.8,587 1155,588" fill="none" stroke="#000" stroke-width="1.5" stroke-linecap="butt" stroke-linejoin="miter"/>
<polyline points="1150,597 1155,598" fill="none" stroke="#000" stroke-width="1.5" stroke-linecap="butt" stroke-linejoin="miter"/>
<polyline points="1160.7,550 1160.7,577 1285.4,610.2" fill="none" stroke="#000" stroke-width="2.5" stroke-linecap="butt" stroke-linejoin="miter"/>
<polyline points="1282.5,569.4 1291,568.6" fill="none" stroke="#000" stroke-width="2.4" stroke-linecap="butt" stroke-linejoin="miter"/>
<polyline points="1286.6,569.4 1286.6,609.8" fill="none" stroke="#000" stroke-width="2.5" stroke-linecap="butt" stroke-linejoin="miter"/>
<polyline points="1290.9,568.8 1290.9,609" fill="none" stroke="#000" stroke-width="2.5" stroke-linecap="butt" stroke-linejoin="miter"/>
<polyline points="1285.4,610.2 1291,609" fill="none" stroke="#000" stroke-width="2.4" stroke-linecap="butt" stroke-linejoin="miter"/>
<polyline points="1286.8,589 1291,588.6" fill="none" stroke="#000" stroke-width="1.5" stroke-linecap="butt" stroke-linejoin="miter"/>
<ellipse cx="1285.8" cy="482" rx="9.2" ry="3.2" fill="#fff" stroke="#000" stroke-width="2.2"/>
<ellipse cx="1422.6" cy="415" rx="8.6" ry="3" fill="#fff" stroke="#000" stroke-width="2.2"/>
<ellipse cx="1285.6" cy="441.3" rx="9.6" ry="3.4" fill="none" stroke="#000" stroke-width="2.2"/>
<ellipse cx="1285.6" cy="435.5" rx="9.6" ry="3.4" fill="#fff" stroke="#000" stroke-width="2.2"/>
<polyline points="1276,435.5 1276,441.3" fill="none" stroke="#000" stroke-width="2.2" stroke-linecap="butt" stroke-linejoin="miter"/>
<polyline points="1295.2,435.5 1295.2,441.3" fill="none" stroke="#000" stroke-width="2.2" stroke-linecap="butt" stroke-linejoin="miter"/>
<ellipse cx="1485" cy="483.6" rx="10.4" ry="3.6" fill="none" stroke="#000" stroke-width="2.2"/>
<ellipse cx="1485" cy="477.6" rx="10.4" ry="3.6" fill="#fff" stroke="#000" stroke-width="2.2"/>
<polyline points="1474.6,477.6 1474.6,483.6" fill="none" stroke="#000" stroke-width="2.2" stroke-linecap="butt" stroke-linejoin="miter"/>
<polyline points="1495.4,477.6 1495.4,483.6" fill="none" stroke="#000" stroke-width="2.2" stroke-linecap="butt" stroke-linejoin="miter"/>
<ellipse cx="1608.4" cy="411.5" rx="9.6" ry="3.4" fill="none" stroke="#000" stroke-width="2.2"/>
<ellipse cx="1608.4" cy="406.1" rx="9.6" ry="3.4" fill="#fff" stroke="#000" stroke-width="2.2"/>
<polyline points="1598.8,406.1 1598.8,411.5" fill="none" stroke="#000" stroke-width="2.2" stroke-linecap="butt" stroke-linejoin="miter"/>
<polyline points="1618,406.1 1618,411.5" fill="none" stroke="#000" stroke-width="2.2" stroke-linecap="butt" stroke-linejoin="miter"/>
<polyline points="1366,595 1652,407" fill="none" stroke="#b4b4b4" stroke-width="1" stroke-linecap="butt" stroke-linejoin="miter"/>
<polyline points="1382,600 1664,410" fill="none" stroke="#b4b4b4" stroke-width="1" stroke-linecap="butt" stroke-linejoin="miter"/>
<polyline points="1480,628 1772,421" fill="none" stroke="#b4b4b4" stroke-width="1" stroke-linecap="butt" stroke-linejoin="miter"/>
<polyline points="1372,582 1372,618 1480,644" fill="none" stroke="#b4b4b4" stroke-width="1" stroke-linecap="butt" stroke-linejoin="miter"/>
<polyline points="1375.5,584 1375.5,614 1482,640" fill="none" stroke="#b4b4b4" stroke-width="1" stroke-linecap="butt" stroke-linejoin="miter"/>
<polyline points="1372,582 1500,607" fill="none" stroke="#b4b4b4" stroke-width="1" stroke-linecap="butt" stroke-linejoin="miter"/>
<polyline points="1496,513 1496,549 1640,578" fill="none" stroke="#b4b4b4" stroke-width="1" stroke-linecap="butt" stroke-linejoin="miter"/>
<polyline points="1499.5,515 1499.5,546 1642,575" fill="none" stroke="#b4b4b4" stroke-width="1" stroke-linecap="butt" stroke-linejoin="miter"/>
<polyline points="1496,513 1668,546" fill="none" stroke="#b4b4b4" stroke-width="1" stroke-linecap="butt" stroke-linejoin="miter"/>
<polyline points="1595,452 1595,482 1722,506" fill="none" stroke="#b4b4b4" stroke-width="1" stroke-linecap="butt" stroke-linejoin="miter"/>
<polyline points="1598.5,454 1598.5,480 1724,503" fill="none" stroke="#b4b4b4" stroke-width="1" stroke-linecap="butt" stroke-linejoin="miter"/>
<polyline points="1595,452 1745,480" fill="none" stroke="#b4b4b4" stroke-width="1" stroke-linecap="butt" stroke-linejoin="miter"/>
<polyline points="1678.5,404 1678.5,427 1770,443" fill="none" stroke="#b4b4b4" stroke-width="1" stroke-linecap="butt" stroke-linejoin="miter"/>
<polyline points="1450,615 1560,541 1700,569" fill="none" stroke="#b4b4b4" stroke-width="1" stroke-linecap="butt" stroke-linejoin="miter"/>
<polyline points="1560,541 1700,446" fill="none" stroke="#b4b4b4" stroke-width="1" stroke-linecap="butt" stroke-linejoin="miter"/>
<polyline points="1375,606 1375,623 1514,657.5" fill="none" stroke="#b4b4b4" stroke-width="1" stroke-linecap="butt" stroke-linejoin="miter"/>
<polyline points="1678.6,395.9 1798.4,415.2" fill="none" stroke="#000" stroke-width="4.2" stroke-linecap="square" stroke-linejoin="miter"/>
<polyline points="1798.4,414 1798.4,423.5" fill="none" stroke="#000" stroke-width="4.2" stroke-linecap="butt" stroke-linejoin="miter"/>
<polyline points="1678.8,395.5 1679.4,403" fill="none" stroke="#000" stroke-width="2.6" stroke-linecap="butt" stroke-linejoin="miter"/>
<polyline points="1680.1,402.6 1784,420.2" fill="none" stroke="#000" stroke-width="2.4" stroke-linecap="butt" stroke-linejoin="miter"/>
<polyline points="1338.5,589.5 1494.7,627.6 1784,420.2" fill="none" stroke="#000" stroke-width="2.5" stroke-linecap="butt" stroke-linejoin="round"/>
<polyline points="1784,420.2 1786,423.8" fill="none" stroke="#000" stroke-width="2.2" stroke-linecap="butt" stroke-linejoin="miter"/>
<polyline points="1338.8,594.6 1495.3,633.4 1786,423.8" fill="none" stroke="#000" stroke-width="2.4" stroke-linecap="butt" stroke-linejoin="round"/>
<polyline points="1338.5,589.5 1338.8,594.6" fill="none" stroke="#000" stroke-width="2.6" stroke-linecap="butt" stroke-linejoin="miter"/>
<polyline points="1494.7,627.6 1495.3,633.4" fill="none" stroke="#000" stroke-width="2.2" stroke-linecap="butt" stroke-linejoin="miter"/>
<polyline points="1680,402.5 1664,399.6" fill="none" stroke="#000" stroke-width="2.4" stroke-linecap="butt" stroke-linejoin="miter"/>
<path d="M1664,399.6 C1660,398.8 1657,398.6 1653,400.6 L1641,406.6" fill="none" stroke="#000" stroke-width="2.4" stroke-linecap="butt" stroke-linejoin="round"/>
<polyline points="1342.9,573.9 1639.4,402.3" fill="none" stroke="#000" stroke-width="2.6" stroke-linecap="butt" stroke-linejoin="miter"/>
<polyline points="1345.6,577.4 1640.4,405" fill="none" stroke="#000" stroke-width="1.2" stroke-linecap="butt" stroke-linejoin="miter" stroke-dasharray="1.2 1.6"/>
<polyline points="1346.9,583.8 1641.6,409" fill="none" stroke="#000" stroke-width="2.6" stroke-linecap="butt" stroke-linejoin="miter"/>
<polyline points="1342.9,573.4 1342.9,590.6" fill="none" stroke="#000" stroke-width="2.6" stroke-linecap="butt" stroke-linejoin="miter"/>
<polyline points="1346.4,575.6 1346.9,584" fill="none" stroke="#000" stroke-width="2.2" stroke-linecap="butt" stroke-linejoin="miter"/>
<polyline points="1639.4,402.3 1641.6,409" fill="none" stroke="#000" stroke-width="2.2" stroke-linecap="butt" stroke-linejoin="miter"/>
<polyline points="1343.8,595.5 1344.2,659.6 1349,658.4 1348.5,596.4" fill="none" stroke="#000" stroke-width="2.5" stroke-linecap="butt" stroke-linejoin="miter"/>
<polyline points="1349,658.4 1393.9,632" fill="none" stroke="#000" stroke-width="2.5" stroke-linecap="butt" stroke-linejoin="miter"/>
<polyline points="1344,616 1348.8,617" fill="none" stroke="#000" stroke-width="1.5" stroke-linecap="butt" stroke-linejoin="miter"/>
<polyline points="1344.2,633 1349,634" fill="none" stroke="#000" stroke-width="1.5" stroke-linecap="butt" stroke-linejoin="miter"/>
<polyline points="1344.2,645 1349,646" fill="none" stroke="#000" stroke-width="1.5" stroke-linecap="butt" stroke-linejoin="miter"/>
<polyline points="1371.6,603 1371.6,625.2 1516.6,660.8" fill="none" stroke="#000" stroke-width="2.5" stroke-linecap="butt" stroke-linejoin="miter"/>
<polyline points="1515.9,620.2 1515.9,660.4" fill="none" stroke="#000" stroke-width="2.5" stroke-linecap="butt" stroke-linejoin="miter"/>
<polyline points="1519.2,617.6 1519.2,659.8" fill="none" stroke="#000" stroke-width="2.5" stroke-linecap="butt" stroke-linejoin="miter"/>
<polyline points="1516.6,660.8 1519.4,659.6" fill="none" stroke="#000" stroke-width="2.4" stroke-linecap="butt" stroke-linejoin="miter"/>
<ellipse cx="1607.2" cy="450.2" rx="9.4" ry="3.4" fill="#fff" stroke="#000" stroke-width="2.2"/>
<ellipse cx="1485.1" cy="526.5" rx="10.2" ry="3.6" fill="#fff" stroke="#000" stroke-width="2.2"/>
<polyline points="1548,622 1812,420" fill="none" stroke="#b4b4b4" stroke-width="1" stroke-linecap="butt" stroke-linejoin="miter"/>
<polyline points="1556,626 1818,426" fill="none" stroke="#b4b4b4" stroke-width="1" stroke-linecap="butt" stroke-linejoin="miter"/>
<polyline points="1549,680 1816,462" fill="none" stroke="#b4b4b4" stroke-width="1" stroke-linecap="butt" stroke-linejoin="miter"/>
<polyline points="1552,668 1812,456" fill="none" stroke="#b4b4b4" stroke-width="1" stroke-linecap="butt" stroke-linejoin="miter"/>
<polyline points="1565,622 1565,664 1572,660 1572,618" fill="none" stroke="#b4b4b4" stroke-width="1" stroke-linecap="butt" stroke-linejoin="miter"/>
<polyline points="1812,418 1812,456" fill="none" stroke="#b4b4b4" stroke-width="1" stroke-linecap="butt" stroke-linejoin="miter"/>
<polyline points="1816,414 1816,462" fill="none" stroke="#b4b4b4" stroke-width="1" stroke-linecap="butt" stroke-linejoin="miter"/>
<polyline points="1578,629 1582.4,627" fill="none" stroke="#b8b8b8" stroke-width="1.2" stroke-linecap="butt" stroke-linejoin="miter"/>
<polyline points="1588,646 1592.4,644" fill="none" stroke="#b8b8b8" stroke-width="1.2" stroke-linecap="butt" stroke-linejoin="miter"/>
<polyline points="1623,589 1627.4,587" fill="none" stroke="#b8b8b8" stroke-width="1.2" stroke-linecap="butt" stroke-linejoin="miter"/>
<polyline points="1638,607 1642.4,605" fill="none" stroke="#b8b8b8" stroke-width="1.2" stroke-linecap="butt" stroke-linejoin="miter"/>
<polyline points="1668,561 1672.4,559" fill="none" stroke="#b8b8b8" stroke-width="1.2" stroke-linecap="butt" stroke-linejoin="miter"/>
<polyline points="1688,573 1692.4,571" fill="none" stroke="#b8b8b8" stroke-width="1.2" stroke-linecap="butt" stroke-linejoin="miter"/>
<polyline points="1728,521 1732.4,519" fill="none" stroke="#b8b8b8" stroke-width="1.2" stroke-linecap="butt" stroke-linejoin="miter"/>
<polyline points="1748,536 1752.4,534" fill="none" stroke="#b8b8b8" stroke-width="1.2" stroke-linecap="butt" stroke-linejoin="miter"/>
<polyline points="1773,489 1777.4,487" fill="none" stroke="#b8b8b8" stroke-width="1.2" stroke-linecap="butt" stroke-linejoin="miter"/>
<polyline points="1793,471 1797.4,469" fill="none" stroke="#b8b8b8" stroke-width="1.2" stroke-linecap="butt" stroke-linejoin="miter"/>
<polyline points="1824.1,407.5 1536.3,615" fill="none" stroke="#000" stroke-width="2.5" stroke-linecap="butt" stroke-linejoin="miter"/>
<polyline points="1820.2,409 1542.5,616.3" fill="none" stroke="#000" stroke-width="2.5" stroke-linecap="butt" stroke-linejoin="miter"/>
<polyline points="1820,408.6 1824.4,407.3" fill="none" stroke="#000" stroke-width="2.5" stroke-linecap="square" stroke-linejoin="miter"/>
<polyline points="1824.1,407.5 1822.9,462.6 1820.4,467.6" fill="none" stroke="#000" stroke-width="3.7" stroke-linecap="butt" stroke-linejoin="round"/>
<polyline points="1820.4,467.6 1542,691.3" fill="none" stroke="#000" stroke-width="2.8" stroke-linecap="butt" stroke-linejoin="miter"/>
<polyline points="1536.3,615 1535,692.5 1542,691.3 1542.5,616.3 1536.3,615" fill="none" stroke="#000" stroke-width="2.5" stroke-linecap="butt" stroke-linejoin="miter"/>
<polyline points="1536,628 1542,629" fill="none" stroke="#000" stroke-width="1.6" stroke-linecap="butt" stroke-linejoin="miter"/>
<polyline points="1536,640 1542,641" fill="none" stroke="#000" stroke-width="1.6" stroke-linecap="butt" stroke-linejoin="miter"/>
<polyline points="1536,652 1542,653" fill="none" stroke="#000" stroke-width="1.6" stroke-linecap="butt" stroke-linejoin="miter"/>
<polyline points="1536,664 1542,665" fill="none" stroke="#000" stroke-width="1.6" stroke-linecap="butt" stroke-linejoin="miter"/>
<polyline points="1536,676 1542,677" fill="none" stroke="#000" stroke-width="1.6" stroke-linecap="butt" stroke-linejoin="miter"/>
<polyline points="1185,475.1 1241.4,486.4" fill="none" stroke="#000" stroke-width="3.3" stroke-linecap="butt" stroke-linejoin="miter"/>
<polyline points="1235.5,451.3 1245.2,453.6" fill="none" stroke="#000" stroke-width="2.4" stroke-linecap="butt" stroke-linejoin="miter"/>
<polyline points="1241.4,452.6 1242,486.6" fill="none" stroke="#000" stroke-width="2.5" stroke-linecap="butt" stroke-linejoin="miter"/>
<polyline points="1245.1,453.6 1245.8,480.4" fill="none" stroke="#000" stroke-width="2.5" stroke-linecap="butt" stroke-linejoin="miter"/>
<polyline points="1300.2,421.9 1352.8,431.3" fill="none" stroke="#000" stroke-width="3.3" stroke-linecap="butt" stroke-linejoin="miter"/>
<polyline points="1357.3,399.5 1357.9,430.5" fill="none" stroke="#000" stroke-width="4.2" stroke-linecap="butt" stroke-linejoin="miter"/>
<polyline points="1340,399 1358,400.5" fill="none" stroke="#000" stroke-width="2.2" stroke-linecap="butt" stroke-linejoin="miter"/>
<polyline points="1365.3,523.3 1414.2,532.7" fill="none" stroke="#000" stroke-width="3.3" stroke-linecap="butt" stroke-linejoin="miter"/>
<polyline points="1409,495.5 1418.6,496.4" fill="none" stroke="#000" stroke-width="2.4" stroke-linecap="butt" stroke-linejoin="miter"/>
<polyline points="1414.6,496.6 1415.5,532.8" fill="none" stroke="#000" stroke-width="2.5" stroke-linecap="butt" stroke-linejoin="miter"/>
<polyline points="1418.3,496.4 1418.7,530.2" fill="none" stroke="#000" stroke-width="2.5" stroke-linecap="butt" stroke-linejoin="miter"/>
<polyline points="1473.9,461.3 1520.4,470.2" fill="none" stroke="#000" stroke-width="3.3" stroke-linecap="butt" stroke-linejoin="miter"/>
<polyline points="1517,436 1524.6,436.6" fill="none" stroke="#000" stroke-width="2.4" stroke-linecap="butt" stroke-linejoin="miter"/>
<polyline points="1522.8,436.2 1523.4,469.8" fill="none" stroke="#000" stroke-width="4.4" stroke-linecap="butt" stroke-linejoin="miter"/>
<polyline points="1567.8,411.9 1603,418.8" fill="none" stroke="#000" stroke-width="3.3" stroke-linecap="butt" stroke-linejoin="miter"/>
<polyline points="1628.4,537 1629.4,547.4" fill="none" stroke="#000" stroke-width="2.4" stroke-linecap="butt" stroke-linejoin="miter"/>
<polyline points="1631.2,536.6 1632,546.4" fill="none" stroke="#000" stroke-width="2.4" stroke-linecap="butt" stroke-linejoin="miter"/>
<polyline points="1585.7,566.4 1601.3,569" fill="none" stroke="#000" stroke-width="2.9" stroke-linecap="butt" stroke-linejoin="miter"/>
<polyline points="1680.2,498.8 1695.2,500.4" fill="none" stroke="#000" stroke-width="2.9" stroke-linecap="butt" stroke-linejoin="miter"/>
<polyline points="1721,470 1722.2,479" fill="none" stroke="#000" stroke-width="3.5" stroke-linecap="butt" stroke-linejoin="miter"/>
<polygon points="1154.3,507.1 1169.2,511.6 1170.2,507.6 1155.1,504.1" fill="#f00" stroke="#f00" stroke-width="1" stroke-linejoin="round"/>
<polygon points="1206,482.9 1221.6,486.6 1222.4,482.6 1206.6,479.9" fill="#f00" stroke="#f00" stroke-width="1" stroke-linejoin="round"/>
<polygon points="1256.1,460.3 1270.3,464 1271.3,460 1256.7,457.3" fill="#f00" stroke="#f00" stroke-width="1" stroke-linejoin="round"/>
<polygon points="1302.4,438.4 1316,442 1317,438 1303,435.4" fill="#f00" stroke="#f00" stroke-width="1" stroke-linejoin="round"/>
<polygon points="1385.2,401.3 1398.8,403.5 1399.2,399.3 1385.6,398.3" fill="#f00" stroke="#f00" stroke-width="1" stroke-linejoin="round"/>
<polygon points="1399.6,524.3 1407,526.6 1408,522.6 1400.4,521.3" fill="#f00" stroke="#f00" stroke-width="1" stroke-linejoin="round"/>
<polygon points="1436.2,497.1 1452.2,501 1453,497 1436.8,494.1" fill="#f00" stroke="#f00" stroke-width="1" stroke-linejoin="round"/>
<polygon points="1479.2,472.9 1494.8,476.6 1495.6,472.6 1479.8,469.9" fill="#f00" stroke="#f00" stroke-width="1" stroke-linejoin="round"/>
<polygon points="1524.5,452.3 1533.9,453.5 1534.1,449.3 1524.7,449.3" fill="#f00" stroke="#f00" stroke-width="1" stroke-linejoin="round"/>
<polygon points="1554.3,429.7 1569.3,432.9 1570.1,428.7 1554.9,426.7" fill="#f00" stroke="#f00" stroke-width="1" stroke-linejoin="round"/>
<polygon points="1341.2,549.9 1357.1,553.6 1357.9,549.6 1341.8,546.9" fill="#f00" stroke="#f00" stroke-width="1" stroke-linejoin="round"/>
<polygon points="1391.2,522.3 1406.8,526.6 1407.8,522.6 1392,519.3" fill="#f00" stroke="#f00" stroke-width="1" stroke-linejoin="round"/>
<polygon points="1833.3,476 1850.1,479.3 1850.7,475.1 1833.7,473" fill="#f00" stroke="#f00" stroke-width="1" stroke-linejoin="round"/>
<polygon points="1804.4,499.8 1821.8,503.7 1822.6,499.5 1805,496.8" fill="#f00" stroke="#f00" stroke-width="1" stroke-linejoin="round"/>
<polygon points="1773.2,526.1 1791.2,530.1 1792,525.9 1773.8,523.1" fill="#f00" stroke="#f00" stroke-width="1" stroke-linejoin="round"/>
<polygon points="1738.1,554.3 1757.3,559.2 1758.3,555.2 1738.7,551.3" fill="#f00" stroke="#f00" stroke-width="1" stroke-linejoin="round"/>
<polygon points="1701.2,585.5 1720.5,590 1721.3,586 1701.8,582.5" fill="#f00" stroke="#f00" stroke-width="1" stroke-linejoin="round"/>
<polygon points="1661.1,619.1 1680.1,623.1 1680.9,618.9 1661.7,616.1" fill="#f00" stroke="#f00" stroke-width="1" stroke-linejoin="round"/>
<ellipse cx="1351.8" cy="537.4" rx="3.8" ry="2.2" fill="#000" stroke="#000" stroke-width="0" transform="rotate(-12 1351.8 537.4)"/>
<polyline points="1770,434.5 1777,434.9" fill="none" stroke="#8f8f1e" stroke-width="2.8" stroke-linecap="butt" stroke-linejoin="miter"/>
<polyline points="1736.8,458.3 1743.8,458.7" fill="none" stroke="#8f8f1e" stroke-width="2.8" stroke-linecap="butt" stroke-linejoin="miter"/>
<polyline points="1701.8,483.7 1708.8,484.1" fill="none" stroke="#8f8f1e" stroke-width="2.8" stroke-linecap="butt" stroke-linejoin="miter"/>
<polyline points="1662.4,512.2 1669.4,512.6" fill="none" stroke="#8f8f1e" stroke-width="2.8" stroke-linecap="butt" stroke-linejoin="miter"/>
<polyline points="1573.9,576.2 1580.9,576.6" fill="none" stroke="#8f8f1e" stroke-width="2.8" stroke-linecap="butt" stroke-linejoin="miter"/>
<polyline points="1523.8,612.6 1530.8,613" fill="none" stroke="#8f8f1e" stroke-width="2.8" stroke-linecap="butt" stroke-linejoin="miter"/>
<polyline points="1523.2,632.9 1530.2,633.3" fill="none" stroke="#8f8f1e" stroke-width="2.8" stroke-linecap="butt" stroke-linejoin="miter"/>
<polyline points="827.6,565.9 832,598.8 939.6,630.8" fill="none" stroke="#b4b4b4" stroke-width="1" stroke-linecap="butt" stroke-linejoin="miter"/>
<polyline points="823.6,561.4 827.6,558.2 942.9,591.3 945.3,632.7 940.6,634.2 827.8,600.3 823.6,561.4 939.2,593.2 940.6,634.2" fill="none" stroke="#000" stroke-width="2.5" stroke-linecap="butt" stroke-linejoin="round"/>
<polyline points="818.3,578.8 835.8,583.8" fill="none" stroke="#000" stroke-width="4.6" stroke-linecap="round" stroke-linejoin="miter"/>
<polyline points="820.1,595.1 836.4,600.1" fill="none" stroke="#000" stroke-width="4.6" stroke-linecap="round" stroke-linejoin="miter"/>
<polyline points="931,610.5 939,611.8" fill="none" stroke="#b4b4b4" stroke-width="1.2" stroke-linecap="butt" stroke-linejoin="miter"/>
<polyline points="941,611 945,610.6" fill="none" stroke="#000" stroke-width="1.5" stroke-linecap="butt" stroke-linejoin="miter"/>
<polyline points="996.8,626.1 999.2,661.2 1128,700.6" fill="none" stroke="#b4b4b4" stroke-width="1" stroke-linecap="butt" stroke-linejoin="miter"/>
<polyline points="992.8,621.6 998.2,618.5 1132.2,658.2 1133.4,703.3 1129,704 995,662.7 992.8,621.6 1128.4,660.1 1129,704" fill="none" stroke="#000" stroke-width="2.5" stroke-linecap="butt" stroke-linejoin="round"/>
<polygon points="988.1,633.2 993.8,629.4 993.8,634" fill="#1e7fe8" stroke="#1e7fe8" stroke-width="0.5" stroke-linejoin="miter"/>
<polygon points="988.1,641.3 994.4,640.6 994.4,647.6 988.1,647" fill="#000" stroke="#000" stroke-width="0.5" stroke-linejoin="miter"/>
<polyline points="1118,678.5 1127,680" fill="none" stroke="#b4b4b4" stroke-width="1.2" stroke-linecap="butt" stroke-linejoin="miter"/>
<polyline points="1129,680.5 1133.2,680" fill="none" stroke="#000" stroke-width="1.5" stroke-linecap="butt" stroke-linejoin="miter"/>
<polyline points="1223.4,682.5 1225.3,720.7 1374.1,764.9" fill="none" stroke="#b4b4b4" stroke-width="1" stroke-linecap="butt" stroke-linejoin="miter"/>
<polyline points="1219.4,678 1224.2,674.9 1378.5,718.7 1378.9,767 1375.1,768.3 1221.1,722.2 1219.4,678 1375.1,720.5 1375.1,768.3" fill="none" stroke="#000" stroke-width="2.5" stroke-linecap="butt" stroke-linejoin="round"/>
<polyline points="1364,740.5 1373,742" fill="none" stroke="#b4b4b4" stroke-width="1.2" stroke-linecap="butt" stroke-linejoin="miter"/>
<polyline points="1375.2,742.5 1378.8,742" fill="none" stroke="#000" stroke-width="1.5" stroke-linecap="butt" stroke-linejoin="miter"/>
<polyline points="1223,697 1233,699.6" fill="none" stroke="#b4b4b4" stroke-width="1.2" stroke-linecap="butt" stroke-linejoin="miter"/>
<polyline points="755.5,570.6 775.4,563.8" fill="none" stroke="#000" stroke-width="4.2" stroke-linecap="round" stroke-linejoin="miter"/>
<ellipse cx="772.6" cy="564.8" rx="2.5" ry="3.3" fill="#fff" stroke="#000" stroke-width="2.2" transform="rotate(-30 772.6 564.8)"/>
<polyline points="761,618.8 780,611.5" fill="none" stroke="#000" stroke-width="4.2" stroke-linecap="round" stroke-linejoin="miter"/>
<ellipse cx="777.3" cy="612.5" rx="2.5" ry="3.3" fill="#fff" stroke="#000" stroke-width="2.2" transform="rotate(-30 777.3 612.5)"/>
<polyline points="756.8,581.8 769.8,577.4" fill="none" stroke="#8a5050" stroke-width="4.4" stroke-linecap="round" stroke-linejoin="miter"/>
<polyline points="763.8,579.5 766,578.7" fill="none" stroke="#e8d8d8" stroke-width="1.1" stroke-linecap="round" stroke-linejoin="miter"/>
<polyline points="759.8,607.5 773,603.2" fill="none" stroke="#8a5050" stroke-width="4.4" stroke-linecap="round" stroke-linejoin="miter"/>
<polyline points="766.9,605.2 769.1,604.4" fill="none" stroke="#e8d8d8" stroke-width="1.1" stroke-linecap="round" stroke-linejoin="miter"/>
<polyline points="991.6,676.8 1003,670.8" fill="none" stroke="#000" stroke-width="4" stroke-linecap="round" stroke-linejoin="miter"/>
<polygon points="993.5,689.1 1002.7,684.5 1003.5,685.9 1010.3,680.9 1008.1,677.1 1000.3,680.4 1001.1,681.7 992.5,687.3" fill="#1e7fe8" stroke="#1e7fe8" stroke-width="1" stroke-linejoin="round"/>
<polygon points="1162.6,686.4 1171.5,681.2 1172.4,682.5 1178.8,677 1176.4,673.4 1168.8,677.2 1169.7,678.5 1161.4,684.8" fill="#1e7fe8" stroke="#1e7fe8" stroke-width="1" stroke-linejoin="round"/>
<polyline points="1161.2,697.6 1172,691" fill="none" stroke="#000" stroke-width="4" stroke-linecap="round" stroke-linejoin="miter"/>
<polyline points="1163,732 1174,725.4" fill="none" stroke="#000" stroke-width="4" stroke-linecap="round" stroke-linejoin="miter"/>
<polygon points="1167.5,740.7 1175,737.4 1175.8,738.8 1181.2,734.7 1179.2,730.9 1172.8,733.1 1173.5,734.5 1166.5,738.9" fill="#1e7fe8" stroke="#1e7fe8" stroke-width="1" stroke-linejoin="round"/>
<polyline points="1300.4,736.6 1316.4,727" fill="none" stroke="#000" stroke-width="4.2" stroke-linecap="round" stroke-linejoin="miter"/>
<ellipse cx="1314.2" cy="728.3" rx="2.5" ry="3.3" fill="#fff" stroke="#000" stroke-width="2.2" transform="rotate(-30 1314.2 728.3)"/>
<polyline points="1301.6,794.4 1317.8,783.4" fill="none" stroke="#000" stroke-width="4.2" stroke-linecap="round" stroke-linejoin="miter"/>
<ellipse cx="1315.5" cy="784.9" rx="2.5" ry="3.3" fill="#fff" stroke="#000" stroke-width="2.2" transform="rotate(-30 1315.5 784.9)"/>
<polyline points="1299.6,750.8 1311.2,743.6" fill="none" stroke="#8a5050" stroke-width="4.4" stroke-linecap="round" stroke-linejoin="miter"/>
<polyline points="1305.7,746.7 1307.9,745.9" fill="none" stroke="#e8d8d8" stroke-width="1.1" stroke-linecap="round" stroke-linejoin="miter"/>
<polyline points="1300.2,781.6 1312,774.6" fill="none" stroke="#8a5050" stroke-width="4.4" stroke-linecap="round" stroke-linejoin="miter"/>
<polyline points="1306.4,777.7 1308.6,776.9" fill="none" stroke="#e8d8d8" stroke-width="1.1" stroke-linecap="round" stroke-linejoin="miter"/>
<polyline points="1356.3,740.8 1337.4,736.9" fill="none" stroke="#000" stroke-width="4.2" stroke-linecap="round" stroke-linejoin="miter"/>
<ellipse cx="1340" cy="737.4" rx="2.5" ry="3.3" fill="#fff" stroke="#000" stroke-width="2.2" transform="rotate(-30 1340 737.4)"/>
<polyline points="1356.3,760.4 1339.4,755" fill="none" stroke="#000" stroke-width="4.2" stroke-linecap="round" stroke-linejoin="miter"/>
<ellipse cx="1341.8" cy="755.8" rx="2.5" ry="3.3" fill="#fff" stroke="#000" stroke-width="2.2" transform="rotate(-30 1341.8 755.8)"/>
</g>
<path transform="translate(475.8 9.3)" d="M1.5,1.5 L9.6,1.5 C13.6,1.5 16.3,4.2 16.3,8 L16.3,12.4 C16.3,16.2 13.6,19 9.6,19 L6.8,19 M9.6,19 C14.2,19 17.2,22 17.2,26.2 L17.2,31.4 C17.2,35.7 14.2,38.7 9.6,38.7 L1.5,38.7" fill="none" stroke="#000" stroke-width="2.8" stroke-linecap="round" stroke-linejoin="round"/>
<path transform="translate(610.8 9.3)" d="M9.6,1.5 L1.7,30.3 L21.6,30.3 M15.5,21.3 L15.5,38.7" fill="none" stroke="#000" stroke-width="2.8" stroke-linecap="round" stroke-linejoin="round"/>
<path transform="translate(738.3 9.3)" d="M1.5,11 L10.6,1.5 L10.6,38.7" fill="none" stroke="#000" stroke-width="2.8" stroke-linecap="round" stroke-linejoin="round"/>
<path transform="translate(760.2 9.3)" d="M1.5,11 L10.6,1.5 L10.6,38.7" fill="none" stroke="#000" stroke-width="2.8" stroke-linecap="round" stroke-linejoin="round"/>
<path transform="translate(893.3 9.3)" d="M1.5,1.5 L9.6,1.5 C13.6,1.5 16.3,4.2 16.3,8 L16.3,12.4 C16.3,16.2 13.6,19 9.6,19 L6.8,19 M9.6,19 C14.2,19 17.2,22 17.2,26.2 L17.2,31.4 C17.2,35.7 14.2,38.7 9.6,38.7 L1.5,38.7" fill="none" stroke="#000" stroke-width="2.8" stroke-linecap="round" stroke-linejoin="round"/>
<path transform="translate(1008 9.3)" d="M1.5,11 L10.6,1.5 L10.6,38.7" fill="none" stroke="#000" stroke-width="2.8" stroke-linecap="round" stroke-linejoin="round"/>
<path transform="translate(1031.5 9.3)" d="M1.5,9.6 C1.5,4.8 5.2,1.5 10.3,1.5 C15.4,1.5 19.1,4.8 19.1,9.6 C19.1,12.2 18.2,14 16.8,16 L1.5,38.7 L19.1,38.7" fill="none" stroke="#000" stroke-width="2.8" stroke-linecap="round" stroke-linejoin="round"/>
<path transform="translate(1146.8 9.3)" d="M1.5,11 L10.6,1.5 L10.6,38.7" fill="none" stroke="#000" stroke-width="2.8" stroke-linecap="round" stroke-linejoin="round"/>
<path transform="translate(1170.3 9.3)" d="M1.5,9.6 C1.5,4.8 5.2,1.5 10.3,1.5 C15.4,1.5 19.1,4.8 19.1,9.6 C19.1,12.2 18.2,14 16.8,16 L1.5,38.7 L19.1,38.7" fill="none" stroke="#000" stroke-width="2.8" stroke-linecap="round" stroke-linejoin="round"/>
<path transform="translate(1294.8 9.3)" d="M1.5,11 L10.6,1.5 L10.6,38.7" fill="none" stroke="#000" stroke-width="2.8" stroke-linecap="round" stroke-linejoin="round"/>
<path transform="translate(1316.7 9.3)" d="M1.5,11 L10.6,1.5 L10.6,38.7" fill="none" stroke="#000" stroke-width="2.8" stroke-linecap="round" stroke-linejoin="round"/>
<path transform="translate(1425.3 9.3)" d="M1.5,11 L10.6,1.5 L10.6,38.7" fill="none" stroke="#000" stroke-width="2.8" stroke-linecap="round" stroke-linejoin="round"/>
<path transform="translate(1448.8 9.3)" d="M1.5,9.6 C1.5,4.8 5.2,1.5 10.3,1.5 C15.4,1.5 19.1,4.8 19.1,9.6 C19.1,12.2 18.2,14 16.8,16 L1.5,38.7 L19.1,38.7" fill="none" stroke="#000" stroke-width="2.8" stroke-linecap="round" stroke-linejoin="round"/>
<path transform="translate(1628.3 9.3)" d="M1.5,11 L10.6,1.5 L10.6,38.7" fill="none" stroke="#000" stroke-width="2.8" stroke-linecap="round" stroke-linejoin="round"/>
<path transform="translate(1650.2 9.3)" d="M1.5,11 L10.6,1.5 L10.6,38.7" fill="none" stroke="#000" stroke-width="2.8" stroke-linecap="round" stroke-linejoin="round"/>
<path transform="translate(1768.6 9.3)" d="M1.5,11 L10.6,1.5 L10.6,38.7" fill="none" stroke="#000" stroke-width="2.8" stroke-linecap="round" stroke-linejoin="round"/>
<path transform="translate(1976 75.3)" d="M1.5,11 L10.6,1.5 L10.6,38.7" fill="none" stroke="#000" stroke-width="2.8" stroke-linecap="round" stroke-linejoin="round"/>
<path transform="translate(1997.9 75.3)" d="M1.5,11 L10.6,1.5 L10.6,38.7" fill="none" stroke="#000" stroke-width="2.8" stroke-linecap="round" stroke-linejoin="round"/>
<path transform="translate(1979.5 206.3)" d="M1.5,1.5 L9.6,1.5 C13.6,1.5 16.3,4.2 16.3,8 L16.3,12.4 C16.3,16.2 13.6,19 9.6,19 L6.8,19 M9.6,19 C14.2,19 17.2,22 17.2,26.2 L17.2,31.4 C17.2,35.7 14.2,38.7 9.6,38.7 L1.5,38.7" fill="none" stroke="#000" stroke-width="2.8" stroke-linecap="round" stroke-linejoin="round"/>
<path transform="translate(1975.6 337.5)" d="M1.5,11 L10.6,1.5 L10.6,38.7" fill="none" stroke="#000" stroke-width="2.8" stroke-linecap="round" stroke-linejoin="round"/>
<path transform="translate(1999.1 337.5)" d="M1.5,9.6 C1.5,4.8 5.2,1.5 10.3,1.5 C15.4,1.5 19.1,4.8 19.1,9.6 C19.1,12.2 18.2,14 16.8,16 L1.5,38.7 L19.1,38.7" fill="none" stroke="#000" stroke-width="2.8" stroke-linecap="round" stroke-linejoin="round"/>
<path transform="translate(1975.6 468.6)" d="M1.5,11 L10.6,1.5 L10.6,38.7" fill="none" stroke="#000" stroke-width="2.8" stroke-linecap="round" stroke-linejoin="round"/>
<path transform="translate(1999.1 468.6)" d="M1.5,9.6 C1.5,4.8 5.2,1.5 10.3,1.5 C15.4,1.5 19.1,4.8 19.1,9.6 C19.1,12.2 18.2,14 16.8,16 L1.5,38.7 L19.1,38.7" fill="none" stroke="#000" stroke-width="2.8" stroke-linecap="round" stroke-linejoin="round"/>
<path transform="translate(1975.6 600)" d="M1.5,11 L10.6,1.5 L10.6,38.7" fill="none" stroke="#000" stroke-width="2.8" stroke-linecap="round" stroke-linejoin="round"/>
<path transform="translate(1999.1 600)" d="M1.5,9.6 C1.5,4.8 5.2,1.5 10.3,1.5 C15.4,1.5 19.1,4.8 19.1,9.6 C19.1,12.2 18.2,14 16.8,16 L1.5,38.7 L19.1,38.7" fill="none" stroke="#000" stroke-width="2.8" stroke-linecap="round" stroke-linejoin="round"/>
<path transform="translate(1978.8 732.2)" d="M18.2,20.4 L8.5,20.4 C4.5,20.4 1.5,17.4 1.5,13.3 L1.5,8.6 C1.5,4.5 4.5,1.5 8.5,1.5 L11.2,1.5 C15.2,1.5 18.2,4.5 18.2,8.6 L18.2,22 C18.2,30 12.5,35.8 6.3,38.4" fill="none" stroke="#000" stroke-width="2.8" stroke-linecap="round" stroke-linejoin="round"/>
<path transform="translate(1978.8 864)" d="M13.1,1.5 C6,4.5 1.5,10.5 1.5,18.5 L1.5,31.5 C1.5,35.7 4.5,38.7 8.5,38.7 L11.2,38.7 C15.2,38.7 18.2,35.7 18.2,31.5 L18.2,25.6 C18.2,21.5 15.2,18.5 11.2,18.5 L1.5,18.5" fill="none" stroke="#000" stroke-width="2.8" stroke-linecap="round" stroke-linejoin="round"/>
<path transform="translate(406 206)" d="M1.5,6.8 L1.5,1.5 L19.1,1.5 L10.2,38.7" fill="none" stroke="#000" stroke-width="2.8" stroke-linecap="round" stroke-linejoin="round"/>
<path transform="translate(382 338.3)" d="M1.5,11 L10.6,1.5 L10.6,38.7" fill="none" stroke="#000" stroke-width="2.8" stroke-linecap="round" stroke-linejoin="round"/>
<path transform="translate(406.7 338.3)" d="M10.2,1.5 C5,1.5 1.5,5 1.5,10.2 L1.5,30 C1.5,35.2 5,38.7 10.2,38.7 C15.4,38.7 18.9,35.2 18.9,30 L18.9,10.2 C18.9,5 15.4,1.5 10.2,1.5 Z" fill="none" stroke="#000" stroke-width="2.8" stroke-linecap="round" stroke-linejoin="round"/>
<path transform="translate(382 468.8)" d="M1.5,11 L10.6,1.5 L10.6,38.7" fill="none" stroke="#000" stroke-width="2.8" stroke-linecap="round" stroke-linejoin="round"/>
<path transform="translate(405.5 468.8)" d="M1.5,9.6 C1.5,4.8 5.2,1.5 10.3,1.5 C15.4,1.5 19.1,4.8 19.1,9.6 C19.1,12.2 18.2,14 16.8,16 L1.5,38.7 L19.1,38.7" fill="none" stroke="#000" stroke-width="2.8" stroke-linecap="round" stroke-linejoin="round"/>
<path transform="translate(382 600.2)" d="M1.5,11 L10.6,1.5 L10.6,38.7" fill="none" stroke="#000" stroke-width="2.8" stroke-linecap="round" stroke-linejoin="round"/>
<path transform="translate(405.5 600.2)" d="M1.5,9.6 C1.5,4.8 5.2,1.5 10.3,1.5 C15.4,1.5 19.1,4.8 19.1,9.6 C19.1,12.2 18.2,14 16.8,16 L1.5,38.7 L19.1,38.7" fill="none" stroke="#000" stroke-width="2.8" stroke-linecap="round" stroke-linejoin="round"/>
<path transform="translate(382 732.3)" d="M1.5,11 L10.6,1.5 L10.6,38.7" fill="none" stroke="#000" stroke-width="2.8" stroke-linecap="round" stroke-linejoin="round"/>
<path transform="translate(407.4 732.3)" d="M1.5,1.5 L9.6,1.5 C13.6,1.5 16.3,4.2 16.3,8 L16.3,12.4 C16.3,16.2 13.6,19 9.6,19 L6.8,19 M9.6,19 C14.2,19 17.2,22 17.2,26.2 L17.2,31.4 C17.2,35.7 14.2,38.7 9.6,38.7 L1.5,38.7" fill="none" stroke="#000" stroke-width="2.8" stroke-linecap="round" stroke-linejoin="round"/>
<path transform="translate(382 864.2)" d="M1.5,11 L10.6,1.5 L10.6,38.7" fill="none" stroke="#000" stroke-width="2.8" stroke-linecap="round" stroke-linejoin="round"/>
<path transform="translate(405.5 864.2)" d="M1.5,9.6 C1.5,4.8 5.2,1.5 10.3,1.5 C15.4,1.5 19.1,4.8 19.1,9.6 C19.1,12.2 18.2,14 16.8,16 L1.5,38.7 L19.1,38.7" fill="none" stroke="#000" stroke-width="2.8" stroke-linecap="round" stroke-linejoin="round"/>
<path transform="translate(391.8 995.8)" d="M1.5,11 L10.6,1.5 L10.6,38.7" fill="none" stroke="#000" stroke-width="2.8" stroke-linecap="round" stroke-linejoin="round"/>
<path transform="translate(413.7 995.8)" d="M1.5,11 L10.6,1.5 L10.6,38.7" fill="none" stroke="#000" stroke-width="2.8" stroke-linecap="round" stroke-linejoin="round"/>
<path transform="translate(635.6 1061)" d="M1.5,9.6 C1.5,4.8 5.2,1.5 10.3,1.5 C15.4,1.5 19.1,4.8 19.1,9.6 C19.1,12.2 18.2,14 16.8,16 L1.5,38.7 L19.1,38.7" fill="none" stroke="#000" stroke-width="2.8" stroke-linecap="round" stroke-linejoin="round"/>
<path transform="translate(829.8 1061)" d="M1.5,11 L10.6,1.5 L10.6,38.7" fill="none" stroke="#000" stroke-width="2.8" stroke-linecap="round" stroke-linejoin="round"/>
<path transform="translate(855.2 1061)" d="M1.5,1.5 L9.6,1.5 C13.6,1.5 16.3,4.2 16.3,8 L16.3,12.4 C16.3,16.2 13.6,19 9.6,19 L6.8,19 M9.6,19 C14.2,19 17.2,22 17.2,26.2 L17.2,31.4 C17.2,35.7 14.2,38.7 9.6,38.7 L1.5,38.7" fill="none" stroke="#000" stroke-width="2.8" stroke-linecap="round" stroke-linejoin="round"/>
<path transform="translate(985.8 1061)" d="M9.8,1.5 C5.8,1.5 3.5,4.2 3.5,7.8 L3.5,12 C3.5,15.6 5.8,18.3 9.8,18.3 C13.8,18.3 16.1,15.6 16.1,12 L16.1,7.8 C16.1,4.2 13.8,1.5 9.8,1.5 Z M9.8,18.3 C4.8,18.3 1.5,21.6 1.5,26 L1.5,31 C1.5,35.4 4.8,38.7 9.8,38.7 C14.8,38.7 18.1,35.4 18.1,31 L18.1,26 C18.1,21.6 14.8,18.3 9.8,18.3 Z" fill="none" stroke="#000" stroke-width="2.8" stroke-linecap="round" stroke-linejoin="round"/>
<path transform="translate(1135.5 1061)" d="M1.5,11 L10.6,1.5 L10.6,38.7" fill="none" stroke="#000" stroke-width="2.8" stroke-linecap="round" stroke-linejoin="round"/>
<path transform="translate(1160.9 1061)" d="M1.5,1.5 L9.6,1.5 C13.6,1.5 16.3,4.2 16.3,8 L16.3,12.4 C16.3,16.2 13.6,19 9.6,19 L6.8,19 M9.6,19 C14.2,19 17.2,22 17.2,26.2 L17.2,31.4 C17.2,35.7 14.2,38.7 9.6,38.7 L1.5,38.7" fill="none" stroke="#000" stroke-width="2.8" stroke-linecap="round" stroke-linejoin="round"/>
<path transform="translate(1288.3 1061)" d="M1.5,11 L10.6,1.5 L10.6,38.7" fill="none" stroke="#000" stroke-width="2.8" stroke-linecap="round" stroke-linejoin="round"/>
<path transform="translate(1310.2 1061)" d="M1.5,11 L10.6,1.5 L10.6,38.7" fill="none" stroke="#000" stroke-width="2.8" stroke-linecap="round" stroke-linejoin="round"/>
<path transform="translate(1441 1061)" d="M1.5,11 L10.6,1.5 L10.6,38.7" fill="none" stroke="#000" stroke-width="2.8" stroke-linecap="round" stroke-linejoin="round"/>
<path transform="translate(1464.5 1061)" d="M1.5,9.6 C1.5,4.8 5.2,1.5 10.3,1.5 C15.4,1.5 19.1,4.8 19.1,9.6 C19.1,12.2 18.2,14 16.8,16 L1.5,38.7 L19.1,38.7" fill="none" stroke="#000" stroke-width="2.8" stroke-linecap="round" stroke-linejoin="round"/>
<path transform="translate(1594.3 1061)" d="M1.5,11 L10.6,1.5 L10.6,38.7" fill="none" stroke="#000" stroke-width="2.8" stroke-linecap="round" stroke-linejoin="round"/>
<path transform="translate(1617.8 1061)" d="M1.5,9.6 C1.5,4.8 5.2,1.5 10.3,1.5 C15.4,1.5 19.1,4.8 19.1,9.6 C19.1,12.2 18.2,14 16.8,16 L1.5,38.7 L19.1,38.7" fill="none" stroke="#000" stroke-width="2.8" stroke-linecap="round" stroke-linejoin="round"/>
<path transform="translate(1752 1061)" d="M15.5,1.5 L1.5,1.5 L1.5,18.6 L8,18.6 C12.4,18.6 15.5,21.6 15.5,26 L15.5,31.2 C15.5,35.6 12.4,38.7 8,38.7 L1.5,38.7" fill="none" stroke="#000" stroke-width="2.8" stroke-linecap="round" stroke-linejoin="round"/>
<path transform="translate(1899.8 1061)" d="M1.5,11 L10.6,1.5 L10.6,38.7" fill="none" stroke="#000" stroke-width="2.8" stroke-linecap="round" stroke-linejoin="round"/>
<path transform="translate(1923.3 1061)" d="M1.5,9.6 C1.5,4.8 5.2,1.5 10.3,1.5 C15.4,1.5 19.1,4.8 19.1,9.6 C19.1,12.2 18.2,14 16.8,16 L1.5,38.7 L19.1,38.7" fill="none" stroke="#000" stroke-width="2.8" stroke-linecap="round" stroke-linejoin="round"/>
<g shape-rendering="crispEdges">
<polyline points="475,58.3 511,58.3 1190.5,432.5" fill="none" stroke="#000" stroke-width="1" stroke-linecap="butt" stroke-linejoin="round"/>
<circle cx="1192.8" cy="433.8" r="2.6" fill="#fff" stroke="#000" stroke-width="1"/>
<polyline points="610,58.3 650,58.3 1305.8,488.1" fill="none" stroke="#000" stroke-width="1" stroke-linecap="butt" stroke-linejoin="round"/>
<circle cx="1308" cy="489.5" r="2.6" fill="#fff" stroke="#000" stroke-width="1"/>
<polyline points="739.5,58.3 789,58.3 1353,500.4" fill="none" stroke="#000" stroke-width="1" stroke-linecap="butt" stroke-linejoin="round"/>
<circle cx="1355" cy="502" r="2.6" fill="#fff" stroke="#000" stroke-width="1"/>
<polyline points="892.5,58.3 928,58.3 1363.1,470" fill="none" stroke="#000" stroke-width="1" stroke-linecap="butt" stroke-linejoin="round"/>
<circle cx="1365" cy="471.8" r="2.6" fill="#fff" stroke="#000" stroke-width="1"/>
<polyline points="1008.7,58.3 1067.5,58.3 1305.3,405.1" fill="none" stroke="#000" stroke-width="1" stroke-linecap="butt" stroke-linejoin="round"/>
<circle cx="1306.8" cy="407.2" r="2.6" fill="#fff" stroke="#000" stroke-width="1"/>
<polyline points="1147.5,58.3 1206,58.3 1404.1,361.6" fill="none" stroke="#000" stroke-width="1" stroke-linecap="butt" stroke-linejoin="round"/>
<circle cx="1405.5" cy="363.8" r="2.6" fill="#fff" stroke="#000" stroke-width="1"/>
<polyline points="1295.5,58.3 1345,58.3 1464.2,440.7" fill="none" stroke="#000" stroke-width="1" stroke-linecap="butt" stroke-linejoin="round"/>
<circle cx="1465" cy="443.2" r="2.6" fill="#fff" stroke="#000" stroke-width="1"/>
<polyline points="1426,58.3 1484.5,58.3 1489.7,324" fill="none" stroke="#000" stroke-width="1" stroke-linecap="butt" stroke-linejoin="round"/>
<circle cx="1489.8" cy="326.6" r="2.6" fill="#fff" stroke="#000" stroke-width="1"/>
<polyline points="1672.5,58.3 1623,58.3 1557.4,391.9" fill="none" stroke="#000" stroke-width="1" stroke-linecap="butt" stroke-linejoin="round"/>
<circle cx="1556.9" cy="394.5" r="2.6" fill="#fff" stroke="#000" stroke-width="1"/>
<polyline points="1789.6,58.3 1762,58.3 1717.5,254.3" fill="none" stroke="#000" stroke-width="1" stroke-linecap="butt" stroke-linejoin="round"/>
<circle cx="1716.9" cy="256.8" r="2.6" fill="#fff" stroke="#000" stroke-width="1"/>
<polyline points="2020.5,123 1971,123 1636.4,351.5" fill="none" stroke="#000" stroke-width="1" stroke-linecap="butt" stroke-linejoin="round"/>
<circle cx="1634.3" cy="353" r="2.6" fill="#fff" stroke="#000" stroke-width="1"/>
<polyline points="2008,255 1971,255 1563.5,513.6" fill="none" stroke="#000" stroke-width="1" stroke-linecap="butt" stroke-linejoin="round"/>
<circle cx="1561.3" cy="515" r="2.6" fill="#fff" stroke="#000" stroke-width="1"/>
<polyline points="2028.5,386.3 1971,386.3 1807.1,376.3" fill="none" stroke="#000" stroke-width="1" stroke-linecap="butt" stroke-linejoin="round"/>
<circle cx="1804.5" cy="376.1" r="2.6" fill="#fff" stroke="#000" stroke-width="1"/>
<polyline points="2028.5,517.8 1971,517.8 1739.7,422.5" fill="none" stroke="#000" stroke-width="1" stroke-linecap="butt" stroke-linejoin="round"/>
<circle cx="1737.3" cy="421.5" r="2.6" fill="#fff" stroke="#000" stroke-width="1"/>
<polyline points="2028.5,649.2 1971,649.2 1660.6,476.5" fill="none" stroke="#000" stroke-width="1" stroke-linecap="butt" stroke-linejoin="round"/>
<circle cx="1658.3" cy="475.2" r="2.6" fill="#fff" stroke="#000" stroke-width="1"/>
<polyline points="2007.8,781.3 1971,781.3 1695.8,547.2" fill="none" stroke="#000" stroke-width="1" stroke-linecap="butt" stroke-linejoin="round"/>
<circle cx="1693.8" cy="545.5" r="2.6" fill="#fff" stroke="#000" stroke-width="1"/>
<polyline points="2007.8,912.4 1971,912.4 1680.9,551.5" fill="none" stroke="#000" stroke-width="1" stroke-linecap="butt" stroke-linejoin="round"/>
<circle cx="1679.3" cy="549.5" r="2.6" fill="#fff" stroke="#000" stroke-width="1"/>
<polyline points="405,255.3 442.5,255.3 1109.2,423.6" fill="none" stroke="#000" stroke-width="1" stroke-linecap="butt" stroke-linejoin="round"/>
<circle cx="1111.7" cy="424.2" r="2.6" fill="#fff" stroke="#000" stroke-width="1"/>
<polyline points="384,386.4 449,386.4 1145.7,427.3" fill="none" stroke="#000" stroke-width="1" stroke-linecap="butt" stroke-linejoin="round"/>
<circle cx="1148.3" cy="427.5" r="2.6" fill="#fff" stroke="#000" stroke-width="1"/>
<polyline points="384,518 444,518 1049.9,520.5" fill="none" stroke="#000" stroke-width="1" stroke-linecap="butt" stroke-linejoin="round"/>
<circle cx="1052.5" cy="520.5" r="2.6" fill="#fff" stroke="#000" stroke-width="1"/>
<polyline points="384,649.4 444.5,649.4 882,596.4" fill="none" stroke="#000" stroke-width="1" stroke-linecap="butt" stroke-linejoin="round"/>
<circle cx="884.6" cy="596.1" r="2.6" fill="#fff" stroke="#000" stroke-width="1"/>
<polyline points="384,781.3 442.6,781.3 612.4,723.4" fill="none" stroke="#000" stroke-width="1" stroke-linecap="butt" stroke-linejoin="round"/>
<circle cx="614.9" cy="722.6" r="2.6" fill="#fff" stroke="#000" stroke-width="1"/>
<polyline points="384,912.3 441.3,912.3 1188.6,460.8" fill="none" stroke="#000" stroke-width="1" stroke-linecap="butt" stroke-linejoin="round"/>
<circle cx="1190.8" cy="459.5" r="2.6" fill="#fff" stroke="#000" stroke-width="1"/>
<polyline points="392,1043.8 441.3,1043.8 1222.6,574.8" fill="none" stroke="#000" stroke-width="1" stroke-linecap="butt" stroke-linejoin="round"/>
<circle cx="1224.8" cy="573.5" r="2.6" fill="#fff" stroke="#000" stroke-width="1"/>
<polyline points="635.4,1109.2 671.8,1109.2 769.1,845.4" fill="none" stroke="#000" stroke-width="1" stroke-linecap="butt" stroke-linejoin="round"/>
<circle cx="770" cy="843" r="2.6" fill="#fff" stroke="#000" stroke-width="1"/>
<polyline points="883.3,1109.2 824.8,1109.2 805.2,799.4" fill="none" stroke="#000" stroke-width="1" stroke-linecap="butt" stroke-linejoin="round"/>
<circle cx="805" cy="796.8" r="2.6" fill="#fff" stroke="#000" stroke-width="1"/>
<polyline points="1014.7,1109.2 978,1109.2 877.2,789.5" fill="none" stroke="#000" stroke-width="1" stroke-linecap="butt" stroke-linejoin="round"/>
<circle cx="876.4" cy="787" r="2.6" fill="#fff" stroke="#000" stroke-width="1"/>
<polyline points="1188,1109.2 1130.3,1109.2 1032.8,888.4" fill="none" stroke="#000" stroke-width="1" stroke-linecap="butt" stroke-linejoin="round"/>
<circle cx="1031.7" cy="886" r="2.6" fill="#fff" stroke="#000" stroke-width="1"/>
<polyline points="1332.8,1109.2 1282.8,1109.2 1064.1,663.3" fill="none" stroke="#000" stroke-width="1" stroke-linecap="butt" stroke-linejoin="round"/>
<circle cx="1063" cy="661" r="2.6" fill="#fff" stroke="#000" stroke-width="1"/>
<polyline points="1494.6,1109.2 1435.6,1109.2 1299.6,723.3" fill="none" stroke="#000" stroke-width="1" stroke-linecap="butt" stroke-linejoin="round"/>
<circle cx="1298.7" cy="720.8" r="2.6" fill="#fff" stroke="#000" stroke-width="1"/>
<polyline points="1647.1,1109.2 1588.8,1109.2 1445.5,623.3" fill="none" stroke="#000" stroke-width="1" stroke-linecap="butt" stroke-linejoin="round"/>
<circle cx="1444.8" cy="620.8" r="2.6" fill="#fff" stroke="#000" stroke-width="1"/>
<polyline points="1778.4,1109.2 1741.8,1109.2 1491.5,534" fill="none" stroke="#000" stroke-width="1" stroke-linecap="butt" stroke-linejoin="round"/>
<circle cx="1490.5" cy="531.6" r="2.6" fill="#fff" stroke="#000" stroke-width="1"/>
<polyline points="1952.6,1109.2 1893.8,1109.2 1563.3,543.8" fill="none" stroke="#000" stroke-width="1" stroke-linecap="butt" stroke-linejoin="round"/>
<circle cx="1562" cy="541.6" r="2.6" fill="#fff" stroke="#000" stroke-width="1"/>
</g>
</svg>
</body></html>
